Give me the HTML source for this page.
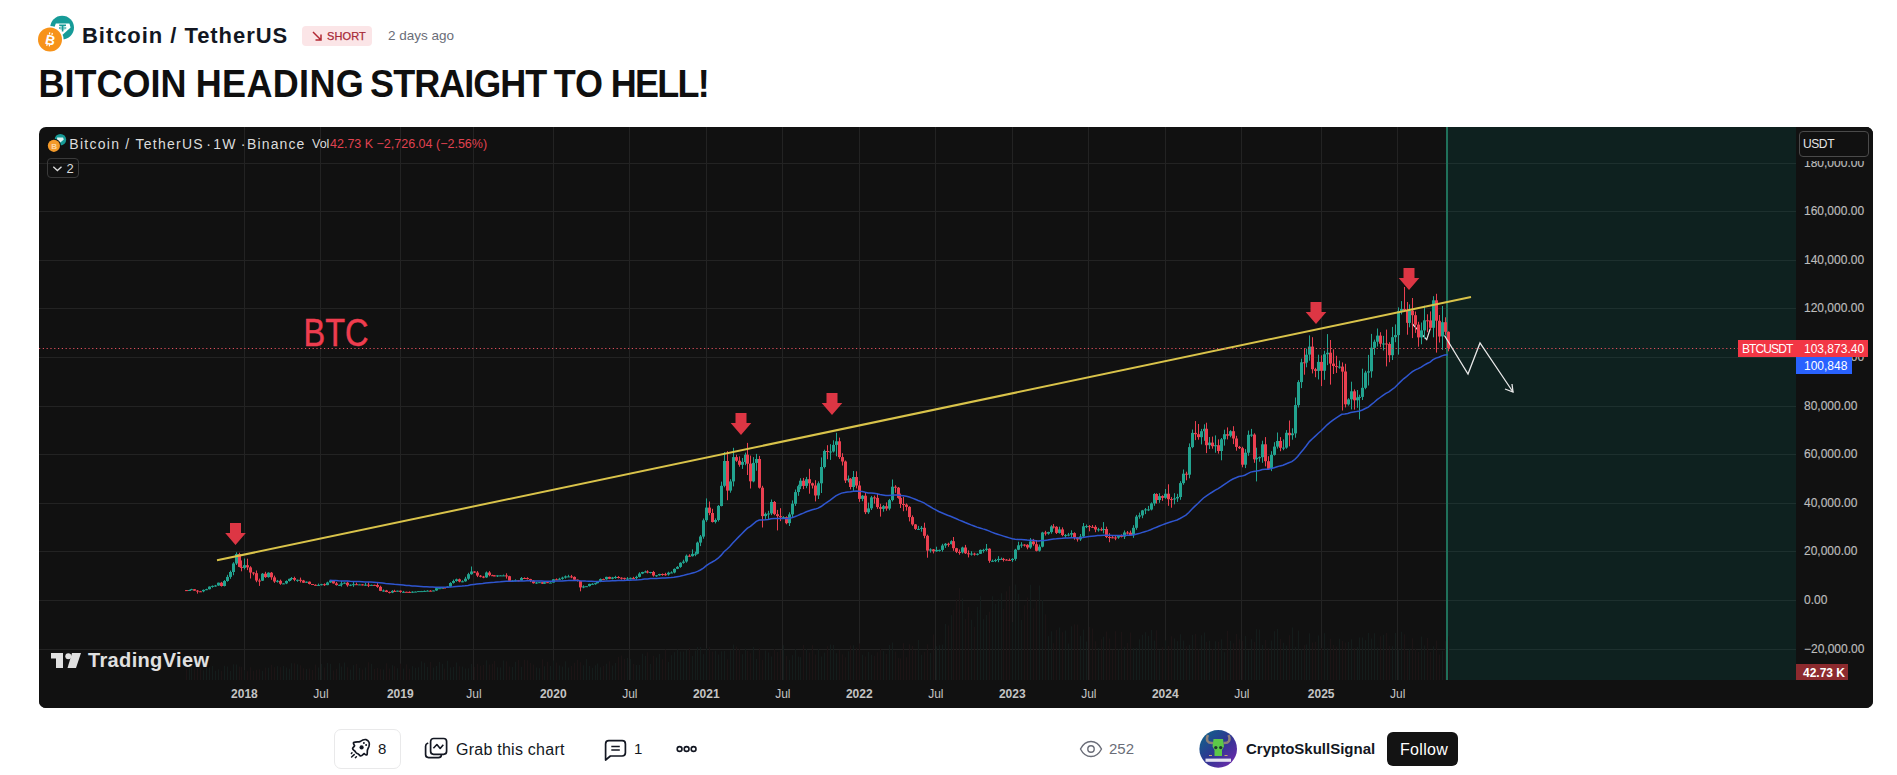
<!DOCTYPE html>
<html><head><meta charset="utf-8"><style>
*{margin:0;padding:0;box-sizing:border-box}
html,body{width:1897px;height:775px;overflow:hidden;background:#fff;font-family:"Liberation Sans",sans-serif;}
.abs{position:absolute;white-space:nowrap}
</style></head>
<body>

<svg class="abs" style="left:0;top:0" width="90" height="60" viewBox="0 0 90 60">
  <circle cx="62.1" cy="27.6" r="11.9" fill="#169b98"/>
  <path d="M55.8,23.6 H69.4 L70.6,27.4 L62.6,34.8 L54.4,27.2 Z" fill="#fff"/>
  <path d="M59.2,25.2 H66 M62.6,25.2 V31.4" stroke="#169b98" stroke-width="1.6"/>
  <ellipse cx="62.6" cy="28" rx="3.6" ry="1" fill="none" stroke="#169b98" stroke-width="0.8"/>
  <circle cx="50" cy="39.6" r="13.6" fill="#fff"/>
  <circle cx="50" cy="39.6" r="12" fill="#f7931a"/>
  <g transform="rotate(13 50 39.6)">
   <text x="50.3" y="44.6" font-family="Liberation Sans" font-weight="bold" font-size="13.5" fill="#fff" text-anchor="middle">B</text>
   <path d="M48.2,32.6 V34.6 M50.8,32.6 V34.6 M48.2,44.4 V46.4 M50.8,44.4 V46.4" stroke="#fff" stroke-width="1.2"/>
  </g>
</svg>
<div class="abs" style="left:82px;top:23px;font-size:22px;font-weight:bold;color:#131722;letter-spacing:0.95px;line-height:26px">Bitcoin / TetherUS</div>
<div class="abs" style="left:302px;top:26px;width:70px;height:20px;background:#fbe5e7;border-radius:4px"></div>
<svg class="abs" style="left:311px;top:30px" width="12" height="12" viewBox="0 0 12 12"><path d="M2 2L10 10M10 4.5V10H4.5" fill="none" stroke="#b22833" stroke-width="1.5"/></svg>
<div class="abs" style="left:327px;top:29px;font-size:11px;color:#a82a38;line-height:14px;letter-spacing:0.1px;-webkit-text-stroke:0.25px #a82a38">SHORT</div>
<div class="abs" style="left:388px;top:28px;font-size:13.5px;color:#6a6d78;line-height:16px">2 days ago</div>
<div class="abs" style="left:38.6px;top:64px;font-size:36px;font-weight:bold;color:#0f0f0f;letter-spacing:0px;line-height:42px;transform:scaleY(1.08);transform-origin:0 33px">BITCOIN</div>
<div class="abs" style="left:195.7px;top:64px;font-size:36px;font-weight:bold;color:#0f0f0f;letter-spacing:0.35px;line-height:42px;transform:scaleY(1.08);transform-origin:0 33px">HEADING</div>
<div class="abs" style="left:370.1px;top:64px;font-size:36px;font-weight:bold;color:#0f0f0f;letter-spacing:-0.97px;line-height:42px;transform:scaleY(1.08);transform-origin:0 33px">STRAIGHT</div>
<div class="abs" style="left:553.7px;top:64px;font-size:36px;font-weight:bold;color:#0f0f0f;letter-spacing:0px;line-height:42px;transform:scaleY(1.08);transform-origin:0 33px">TO</div>
<div class="abs" style="left:610.7px;top:64px;font-size:36px;font-weight:bold;color:#0f0f0f;letter-spacing:-1.75px;line-height:42px;transform:scaleY(1.08);transform-origin:0 33px">HELL!</div>

<svg class="abs" style="left:0;top:0" width="1897" height="775" viewBox="0 0 1897 775">
<defs><clipPath id="cc"><rect x="39" y="127" width="1834" height="581" rx="7"/></clipPath><clipPath id="pane"><rect x="39" y="127" width="1757" height="553"/></clipPath></defs>
<g clip-path="url(#cc)">
<rect x="39" y="127" width="1834" height="581" fill="#111111"/>
<g stroke="#232323" stroke-width="1"><line x1="39" y1="649.5" x2="1796" y2="649.5"/><line x1="39" y1="600.5" x2="1796" y2="600.5"/><line x1="39" y1="551.5" x2="1796" y2="551.5"/><line x1="39" y1="503.5" x2="1796" y2="503.5"/><line x1="39" y1="454.5" x2="1796" y2="454.5"/><line x1="39" y1="406.5" x2="1796" y2="406.5"/><line x1="39" y1="357.5" x2="1796" y2="357.5"/><line x1="39" y1="308.5" x2="1796" y2="308.5"/><line x1="39" y1="260.5" x2="1796" y2="260.5"/><line x1="39" y1="211.5" x2="1796" y2="211.5"/><line x1="39" y1="163.5" x2="1796" y2="163.5"/><line x1="39" y1="114.5" x2="1796" y2="114.5"/><line x1="244.5" y1="127" x2="244.5" y2="680"/><line x1="320.5" y1="127" x2="320.5" y2="680"/><line x1="400.5" y1="127" x2="400.5" y2="680"/><line x1="473.5" y1="127" x2="473.5" y2="680"/><line x1="553.5" y1="127" x2="553.5" y2="680"/><line x1="629.5" y1="127" x2="629.5" y2="680"/><line x1="706.5" y1="127" x2="706.5" y2="680"/><line x1="782.5" y1="127" x2="782.5" y2="680"/><line x1="859.5" y1="127" x2="859.5" y2="680"/><line x1="935.5" y1="127" x2="935.5" y2="680"/><line x1="1012.5" y1="127" x2="1012.5" y2="680"/><line x1="1088.5" y1="127" x2="1088.5" y2="680"/><line x1="1165.5" y1="127" x2="1165.5" y2="680"/><line x1="1241.5" y1="127" x2="1241.5" y2="680"/><line x1="1321.5" y1="127" x2="1321.5" y2="680"/><line x1="1397.5" y1="127" x2="1397.5" y2="680"/></g>
<rect x="1447" y="127" width="349" height="553" fill="rgb(0,125,111)" fill-opacity="0.15"/>
<g clip-path="url(#pane)">
<rect x="186" y="668.7" width="1" height="11.3" fill="#1c1415"/>
<rect x="189" y="667.9" width="1" height="12.1" fill="#141c1b"/>
<rect x="191" y="665.4" width="1" height="14.6" fill="#141c1b"/>
<rect x="194" y="668.5" width="1" height="11.5" fill="#1c1415"/>
<rect x="197" y="668.2" width="1" height="11.8" fill="#1c1415"/>
<rect x="200" y="667.6" width="1" height="12.4" fill="#1c1415"/>
<rect x="203" y="670.3" width="1" height="9.7" fill="#141c1b"/>
<rect x="206" y="668.0" width="1" height="12.0" fill="#141c1b"/>
<rect x="209" y="667.2" width="1" height="12.8" fill="#141c1b"/>
<rect x="212" y="666.0" width="1" height="14.0" fill="#141c1b"/>
<rect x="215" y="670.8" width="1" height="9.2" fill="#141c1b"/>
<rect x="218" y="669.3" width="1" height="10.7" fill="#141c1b"/>
<rect x="221" y="670.8" width="1" height="9.2" fill="#1c1415"/>
<rect x="224" y="665.7" width="1" height="14.3" fill="#141c1b"/>
<rect x="227" y="666.5" width="1" height="13.5" fill="#141c1b"/>
<rect x="230" y="671.0" width="1" height="9.0" fill="#141c1b"/>
<rect x="233" y="664.3" width="1" height="15.7" fill="#141c1b"/>
<rect x="236" y="664.4" width="1" height="15.6" fill="#141c1b"/>
<rect x="239" y="666.6" width="1" height="13.4" fill="#1c1415"/>
<rect x="241" y="666.8" width="1" height="13.2" fill="#1c1415"/>
<rect x="244" y="670.1" width="1" height="9.9" fill="#141c1b"/>
<rect x="247" y="671.1" width="1" height="8.9" fill="#1c1415"/>
<rect x="250" y="667.3" width="1" height="12.7" fill="#1c1415"/>
<rect x="253" y="670.7" width="1" height="9.3" fill="#1c1415"/>
<rect x="256" y="669.7" width="1" height="10.3" fill="#1c1415"/>
<rect x="259" y="669.3" width="1" height="10.7" fill="#1c1415"/>
<rect x="262" y="670.8" width="1" height="9.2" fill="#141c1b"/>
<rect x="265" y="667.6" width="1" height="12.4" fill="#1c1415"/>
<rect x="268" y="667.7" width="1" height="12.3" fill="#141c1b"/>
<rect x="271" y="664.7" width="1" height="15.3" fill="#1c1415"/>
<rect x="274" y="667.1" width="1" height="12.9" fill="#1c1415"/>
<rect x="277" y="666.1" width="1" height="13.9" fill="#141c1b"/>
<rect x="280" y="667.1" width="1" height="12.9" fill="#1c1415"/>
<rect x="283" y="665.9" width="1" height="14.1" fill="#141c1b"/>
<rect x="286" y="667.4" width="1" height="12.6" fill="#141c1b"/>
<rect x="289" y="668.7" width="1" height="11.3" fill="#141c1b"/>
<rect x="291" y="663.2" width="1" height="16.8" fill="#141c1b"/>
<rect x="294" y="663.2" width="1" height="16.8" fill="#1c1415"/>
<rect x="297" y="664.3" width="1" height="15.7" fill="#141c1b"/>
<rect x="300" y="665.3" width="1" height="14.7" fill="#1c1415"/>
<rect x="303" y="668.2" width="1" height="11.8" fill="#1c1415"/>
<rect x="306" y="668.9" width="1" height="11.1" fill="#141c1b"/>
<rect x="309" y="668.4" width="1" height="11.6" fill="#1c1415"/>
<rect x="312" y="670.0" width="1" height="10.0" fill="#1c1415"/>
<rect x="315" y="664.6" width="1" height="15.4" fill="#1c1415"/>
<rect x="318" y="667.4" width="1" height="12.6" fill="#141c1b"/>
<rect x="321" y="663.9" width="1" height="16.1" fill="#141c1b"/>
<rect x="324" y="667.4" width="1" height="12.6" fill="#1c1415"/>
<rect x="327" y="662.9" width="1" height="17.1" fill="#141c1b"/>
<rect x="330" y="663.8" width="1" height="16.2" fill="#141c1b"/>
<rect x="333" y="670.4" width="1" height="9.6" fill="#1c1415"/>
<rect x="336" y="668.7" width="1" height="11.3" fill="#1c1415"/>
<rect x="339" y="663.1" width="1" height="16.9" fill="#141c1b"/>
<rect x="341" y="666.6" width="1" height="13.4" fill="#141c1b"/>
<rect x="344" y="662.5" width="1" height="17.5" fill="#141c1b"/>
<rect x="347" y="667.1" width="1" height="12.9" fill="#1c1415"/>
<rect x="350" y="669.6" width="1" height="10.4" fill="#141c1b"/>
<rect x="353" y="665.1" width="1" height="14.9" fill="#141c1b"/>
<rect x="356" y="663.9" width="1" height="16.1" fill="#1c1415"/>
<rect x="359" y="668.0" width="1" height="12.0" fill="#141c1b"/>
<rect x="362" y="669.4" width="1" height="10.6" fill="#1c1415"/>
<rect x="365" y="667.4" width="1" height="12.6" fill="#141c1b"/>
<rect x="368" y="662.2" width="1" height="17.8" fill="#1c1415"/>
<rect x="371" y="663.8" width="1" height="16.2" fill="#141c1b"/>
<rect x="374" y="669.0" width="1" height="11.0" fill="#1c1415"/>
<rect x="377" y="667.9" width="1" height="12.1" fill="#1c1415"/>
<rect x="380" y="669.1" width="1" height="10.9" fill="#1c1415"/>
<rect x="383" y="669.4" width="1" height="10.6" fill="#141c1b"/>
<rect x="386" y="663.3" width="1" height="16.7" fill="#1c1415"/>
<rect x="389" y="668.4" width="1" height="11.6" fill="#1c1415"/>
<rect x="392" y="665.2" width="1" height="14.8" fill="#141c1b"/>
<rect x="394" y="666.1" width="1" height="13.9" fill="#1c1415"/>
<rect x="397" y="668.2" width="1" height="11.8" fill="#141c1b"/>
<rect x="400" y="663.6" width="1" height="16.4" fill="#1c1415"/>
<rect x="403" y="668.6" width="1" height="11.4" fill="#141c1b"/>
<rect x="406" y="664.3" width="1" height="15.7" fill="#1c1415"/>
<rect x="409" y="668.7" width="1" height="11.3" fill="#1c1415"/>
<rect x="412" y="666.1" width="1" height="13.9" fill="#141c1b"/>
<rect x="415" y="667.8" width="1" height="12.2" fill="#141c1b"/>
<rect x="418" y="667.3" width="1" height="12.7" fill="#141c1b"/>
<rect x="421" y="661.3" width="1" height="18.7" fill="#141c1b"/>
<rect x="424" y="662.7" width="1" height="17.3" fill="#141c1b"/>
<rect x="427" y="666.9" width="1" height="13.1" fill="#141c1b"/>
<rect x="430" y="661.9" width="1" height="18.1" fill="#1c1415"/>
<rect x="433" y="667.6" width="1" height="12.4" fill="#141c1b"/>
<rect x="436" y="666.0" width="1" height="14.0" fill="#141c1b"/>
<rect x="439" y="662.0" width="1" height="18.0" fill="#141c1b"/>
<rect x="442" y="663.8" width="1" height="16.2" fill="#141c1b"/>
<rect x="444" y="668.5" width="1" height="11.5" fill="#1c1415"/>
<rect x="447" y="660.7" width="1" height="19.3" fill="#141c1b"/>
<rect x="450" y="667.4" width="1" height="12.6" fill="#141c1b"/>
<rect x="453" y="667.0" width="1" height="13.0" fill="#141c1b"/>
<rect x="456" y="662.4" width="1" height="17.6" fill="#141c1b"/>
<rect x="459" y="666.3" width="1" height="13.7" fill="#1c1415"/>
<rect x="462" y="666.6" width="1" height="13.4" fill="#141c1b"/>
<rect x="465" y="668.5" width="1" height="11.5" fill="#141c1b"/>
<rect x="468" y="668.3" width="1" height="11.7" fill="#141c1b"/>
<rect x="471" y="663.9" width="1" height="16.1" fill="#141c1b"/>
<rect x="474" y="666.9" width="1" height="13.1" fill="#1c1415"/>
<rect x="477" y="663.7" width="1" height="16.3" fill="#1c1415"/>
<rect x="480" y="665.7" width="1" height="14.3" fill="#1c1415"/>
<rect x="483" y="664.9" width="1" height="15.1" fill="#1c1415"/>
<rect x="486" y="660.3" width="1" height="19.7" fill="#141c1b"/>
<rect x="489" y="664.6" width="1" height="15.4" fill="#1c1415"/>
<rect x="492" y="663.7" width="1" height="16.3" fill="#1c1415"/>
<rect x="494" y="661.0" width="1" height="19.0" fill="#1c1415"/>
<rect x="497" y="667.2" width="1" height="12.8" fill="#141c1b"/>
<rect x="500" y="667.4" width="1" height="12.6" fill="#141c1b"/>
<rect x="503" y="660.5" width="1" height="19.5" fill="#141c1b"/>
<rect x="506" y="661.3" width="1" height="18.7" fill="#1c1415"/>
<rect x="509" y="666.4" width="1" height="13.6" fill="#1c1415"/>
<rect x="512" y="667.0" width="1" height="13.0" fill="#141c1b"/>
<rect x="515" y="661.8" width="1" height="18.2" fill="#141c1b"/>
<rect x="518" y="659.9" width="1" height="20.1" fill="#1c1415"/>
<rect x="521" y="666.8" width="1" height="13.2" fill="#141c1b"/>
<rect x="524" y="659.7" width="1" height="20.3" fill="#1c1415"/>
<rect x="527" y="660.3" width="1" height="19.7" fill="#1c1415"/>
<rect x="530" y="662.9" width="1" height="17.1" fill="#1c1415"/>
<rect x="533" y="664.6" width="1" height="15.4" fill="#1c1415"/>
<rect x="536" y="667.5" width="1" height="12.5" fill="#141c1b"/>
<rect x="539" y="668.1" width="1" height="11.9" fill="#141c1b"/>
<rect x="542" y="659.3" width="1" height="20.7" fill="#1c1415"/>
<rect x="544" y="666.2" width="1" height="13.8" fill="#141c1b"/>
<rect x="547" y="661.7" width="1" height="18.3" fill="#1c1415"/>
<rect x="550" y="665.9" width="1" height="14.1" fill="#141c1b"/>
<rect x="553" y="660.5" width="1" height="19.5" fill="#141c1b"/>
<rect x="556" y="662.6" width="1" height="17.4" fill="#1c1415"/>
<rect x="559" y="665.5" width="1" height="14.5" fill="#141c1b"/>
<rect x="562" y="666.6" width="1" height="13.4" fill="#141c1b"/>
<rect x="565" y="661.3" width="1" height="18.7" fill="#141c1b"/>
<rect x="568" y="667.5" width="1" height="12.5" fill="#141c1b"/>
<rect x="571" y="666.0" width="1" height="14.0" fill="#1c1415"/>
<rect x="574" y="662.7" width="1" height="17.3" fill="#1c1415"/>
<rect x="577" y="659.8" width="1" height="20.2" fill="#1c1415"/>
<rect x="580" y="662.1" width="1" height="17.9" fill="#1c1415"/>
<rect x="583" y="665.3" width="1" height="14.7" fill="#141c1b"/>
<rect x="586" y="659.1" width="1" height="20.9" fill="#141c1b"/>
<rect x="589" y="666.0" width="1" height="14.0" fill="#141c1b"/>
<rect x="592" y="667.8" width="1" height="12.2" fill="#141c1b"/>
<rect x="595" y="665.3" width="1" height="14.7" fill="#141c1b"/>
<rect x="597" y="663.5" width="1" height="16.5" fill="#141c1b"/>
<rect x="600" y="667.3" width="1" height="12.7" fill="#141c1b"/>
<rect x="603" y="665.9" width="1" height="14.1" fill="#1c1415"/>
<rect x="606" y="663.7" width="1" height="16.3" fill="#141c1b"/>
<rect x="609" y="661.3" width="1" height="18.7" fill="#1c1415"/>
<rect x="612" y="665.6" width="1" height="14.4" fill="#141c1b"/>
<rect x="615" y="662.9" width="1" height="17.1" fill="#141c1b"/>
<rect x="618" y="656.8" width="1" height="23.2" fill="#1c1415"/>
<rect x="621" y="655.5" width="1" height="24.5" fill="#1c1415"/>
<rect x="624" y="658.8" width="1" height="21.2" fill="#1c1415"/>
<rect x="627" y="658.0" width="1" height="22.0" fill="#141c1b"/>
<rect x="630" y="659.0" width="1" height="21.0" fill="#141c1b"/>
<rect x="633" y="663.9" width="1" height="16.1" fill="#1c1415"/>
<rect x="636" y="664.9" width="1" height="15.1" fill="#141c1b"/>
<rect x="639" y="664.9" width="1" height="15.1" fill="#141c1b"/>
<rect x="642" y="653.7" width="1" height="26.3" fill="#141c1b"/>
<rect x="645" y="656.0" width="1" height="24.0" fill="#141c1b"/>
<rect x="647" y="652.3" width="1" height="27.7" fill="#1c1415"/>
<rect x="650" y="664.0" width="1" height="16.0" fill="#141c1b"/>
<rect x="653" y="655.8" width="1" height="24.2" fill="#1c1415"/>
<rect x="656" y="657.5" width="1" height="22.5" fill="#141c1b"/>
<rect x="659" y="653.9" width="1" height="26.1" fill="#141c1b"/>
<rect x="662" y="659.1" width="1" height="20.9" fill="#1c1415"/>
<rect x="665" y="649.5" width="1" height="30.5" fill="#1c1415"/>
<rect x="668" y="662.0" width="1" height="18.0" fill="#141c1b"/>
<rect x="671" y="655.1" width="1" height="24.9" fill="#141c1b"/>
<rect x="674" y="652.1" width="1" height="27.9" fill="#141c1b"/>
<rect x="677" y="649.4" width="1" height="30.6" fill="#141c1b"/>
<rect x="680" y="651.5" width="1" height="28.5" fill="#141c1b"/>
<rect x="683" y="651.6" width="1" height="28.4" fill="#141c1b"/>
<rect x="686" y="649.9" width="1" height="30.1" fill="#141c1b"/>
<rect x="689" y="647.8" width="1" height="32.2" fill="#1c1415"/>
<rect x="692" y="656.0" width="1" height="24.0" fill="#141c1b"/>
<rect x="695" y="650.6" width="1" height="29.4" fill="#141c1b"/>
<rect x="697" y="646.9" width="1" height="33.1" fill="#141c1b"/>
<rect x="700" y="647.0" width="1" height="33.0" fill="#141c1b"/>
<rect x="703" y="654.1" width="1" height="25.9" fill="#141c1b"/>
<rect x="706" y="648.2" width="1" height="31.8" fill="#141c1b"/>
<rect x="709" y="647.0" width="1" height="33.0" fill="#1c1415"/>
<rect x="712" y="651.6" width="1" height="28.4" fill="#1c1415"/>
<rect x="715" y="650.7" width="1" height="29.3" fill="#141c1b"/>
<rect x="718" y="654.5" width="1" height="25.5" fill="#141c1b"/>
<rect x="721" y="651.3" width="1" height="28.7" fill="#141c1b"/>
<rect x="724" y="650.9" width="1" height="29.1" fill="#141c1b"/>
<rect x="727" y="659.3" width="1" height="20.7" fill="#1c1415"/>
<rect x="730" y="650.3" width="1" height="29.7" fill="#141c1b"/>
<rect x="733" y="644.6" width="1" height="35.4" fill="#141c1b"/>
<rect x="736" y="646.4" width="1" height="33.6" fill="#1c1415"/>
<rect x="739" y="648.8" width="1" height="31.2" fill="#1c1415"/>
<rect x="742" y="654.2" width="1" height="25.8" fill="#141c1b"/>
<rect x="745" y="648.6" width="1" height="31.4" fill="#141c1b"/>
<rect x="747" y="651.0" width="1" height="29.0" fill="#1c1415"/>
<rect x="750" y="653.2" width="1" height="26.8" fill="#1c1415"/>
<rect x="753" y="646.8" width="1" height="33.2" fill="#141c1b"/>
<rect x="756" y="658.9" width="1" height="21.1" fill="#141c1b"/>
<rect x="759" y="648.1" width="1" height="31.9" fill="#1c1415"/>
<rect x="762" y="659.8" width="1" height="20.2" fill="#1c1415"/>
<rect x="765" y="650.5" width="1" height="29.5" fill="#141c1b"/>
<rect x="768" y="652.4" width="1" height="27.6" fill="#141c1b"/>
<rect x="771" y="656.4" width="1" height="23.6" fill="#141c1b"/>
<rect x="774" y="648.8" width="1" height="31.2" fill="#1c1415"/>
<rect x="777" y="652.0" width="1" height="28.0" fill="#1c1415"/>
<rect x="780" y="650.1" width="1" height="29.9" fill="#1c1415"/>
<rect x="783" y="645.1" width="1" height="34.9" fill="#141c1b"/>
<rect x="786" y="655.9" width="1" height="24.1" fill="#1c1415"/>
<rect x="789" y="659.8" width="1" height="20.2" fill="#141c1b"/>
<rect x="792" y="655.1" width="1" height="24.9" fill="#141c1b"/>
<rect x="795" y="648.9" width="1" height="31.1" fill="#141c1b"/>
<rect x="798" y="656.6" width="1" height="23.4" fill="#141c1b"/>
<rect x="800" y="657.1" width="1" height="22.9" fill="#141c1b"/>
<rect x="803" y="645.0" width="1" height="35.0" fill="#1c1415"/>
<rect x="806" y="649.0" width="1" height="31.0" fill="#141c1b"/>
<rect x="809" y="652.6" width="1" height="27.4" fill="#1c1415"/>
<rect x="812" y="645.1" width="1" height="34.9" fill="#1c1415"/>
<rect x="815" y="654.4" width="1" height="25.6" fill="#1c1415"/>
<rect x="818" y="648.8" width="1" height="31.2" fill="#141c1b"/>
<rect x="821" y="656.5" width="1" height="23.5" fill="#141c1b"/>
<rect x="824" y="652.6" width="1" height="27.4" fill="#141c1b"/>
<rect x="827" y="646.3" width="1" height="33.7" fill="#1c1415"/>
<rect x="830" y="644.5" width="1" height="35.5" fill="#141c1b"/>
<rect x="833" y="645.0" width="1" height="35.0" fill="#141c1b"/>
<rect x="836" y="653.2" width="1" height="26.8" fill="#141c1b"/>
<rect x="839" y="649.9" width="1" height="30.1" fill="#1c1415"/>
<rect x="842" y="654.3" width="1" height="25.7" fill="#1c1415"/>
<rect x="845" y="657.3" width="1" height="22.7" fill="#1c1415"/>
<rect x="848" y="651.2" width="1" height="28.8" fill="#141c1b"/>
<rect x="850" y="645.5" width="1" height="34.5" fill="#1c1415"/>
<rect x="853" y="645.2" width="1" height="34.8" fill="#141c1b"/>
<rect x="856" y="647.5" width="1" height="32.5" fill="#1c1415"/>
<rect x="859" y="643.5" width="1" height="36.5" fill="#1c1415"/>
<rect x="862" y="654.7" width="1" height="25.3" fill="#141c1b"/>
<rect x="865" y="656.5" width="1" height="23.5" fill="#1c1415"/>
<rect x="868" y="651.8" width="1" height="28.2" fill="#141c1b"/>
<rect x="871" y="654.7" width="1" height="25.3" fill="#141c1b"/>
<rect x="874" y="655.7" width="1" height="24.3" fill="#1c1415"/>
<rect x="877" y="652.3" width="1" height="27.7" fill="#1c1415"/>
<rect x="880" y="648.7" width="1" height="31.3" fill="#1c1415"/>
<rect x="883" y="650.9" width="1" height="29.1" fill="#141c1b"/>
<rect x="886" y="653.9" width="1" height="26.1" fill="#1c1415"/>
<rect x="889" y="644.9" width="1" height="35.1" fill="#141c1b"/>
<rect x="892" y="642.4" width="1" height="37.6" fill="#141c1b"/>
<rect x="895" y="651.4" width="1" height="28.6" fill="#1c1415"/>
<rect x="898" y="657.8" width="1" height="22.2" fill="#1c1415"/>
<rect x="900" y="658.5" width="1" height="21.5" fill="#1c1415"/>
<rect x="903" y="643.1" width="1" height="36.9" fill="#1c1415"/>
<rect x="906" y="657.1" width="1" height="22.9" fill="#1c1415"/>
<rect x="909" y="644.2" width="1" height="35.8" fill="#1c1415"/>
<rect x="912" y="646.0" width="1" height="34.0" fill="#1c1415"/>
<rect x="915" y="650.2" width="1" height="29.8" fill="#1c1415"/>
<rect x="918" y="639.9" width="1" height="40.1" fill="#141c1b"/>
<rect x="921" y="654.7" width="1" height="25.3" fill="#141c1b"/>
<rect x="924" y="651.7" width="1" height="28.3" fill="#1c1415"/>
<rect x="927" y="644.3" width="1" height="35.7" fill="#1c1415"/>
<rect x="930" y="652.9" width="1" height="27.1" fill="#141c1b"/>
<rect x="933" y="634.5" width="1" height="45.5" fill="#1c1415"/>
<rect x="936" y="646.2" width="1" height="33.8" fill="#141c1b"/>
<rect x="939" y="645.2" width="1" height="34.8" fill="#141c1b"/>
<rect x="942" y="644.6" width="1" height="35.4" fill="#141c1b"/>
<rect x="945" y="623.9" width="1" height="56.1" fill="#141c1b"/>
<rect x="948" y="625.5" width="1" height="54.5" fill="#1c1415"/>
<rect x="951" y="615.1" width="1" height="64.9" fill="#141c1b"/>
<rect x="953" y="609.7" width="1" height="70.3" fill="#1c1415"/>
<rect x="956" y="599.2" width="1" height="80.8" fill="#1c1415"/>
<rect x="959" y="588.0" width="1" height="92.0" fill="#1c1415"/>
<rect x="962" y="598.4" width="1" height="81.6" fill="#141c1b"/>
<rect x="965" y="619.0" width="1" height="61.0" fill="#1c1415"/>
<rect x="968" y="607.0" width="1" height="73.0" fill="#1c1415"/>
<rect x="971" y="619.7" width="1" height="60.3" fill="#141c1b"/>
<rect x="974" y="626.8" width="1" height="53.2" fill="#1c1415"/>
<rect x="977" y="606.8" width="1" height="73.2" fill="#141c1b"/>
<rect x="980" y="596.1" width="1" height="83.9" fill="#141c1b"/>
<rect x="983" y="619.2" width="1" height="60.8" fill="#141c1b"/>
<rect x="986" y="615.0" width="1" height="65.0" fill="#141c1b"/>
<rect x="989" y="611.7" width="1" height="68.3" fill="#1c1415"/>
<rect x="992" y="596.2" width="1" height="83.8" fill="#141c1b"/>
<rect x="995" y="603.8" width="1" height="76.2" fill="#141c1b"/>
<rect x="998" y="599.5" width="1" height="80.5" fill="#141c1b"/>
<rect x="1001" y="593.2" width="1" height="86.8" fill="#141c1b"/>
<rect x="1003" y="609.0" width="1" height="71.0" fill="#1c1415"/>
<rect x="1006" y="591.3" width="1" height="88.7" fill="#1c1415"/>
<rect x="1009" y="586.1" width="1" height="93.9" fill="#1c1415"/>
<rect x="1012" y="622.1" width="1" height="57.9" fill="#141c1b"/>
<rect x="1015" y="584.5" width="1" height="95.5" fill="#141c1b"/>
<rect x="1018" y="593.7" width="1" height="86.3" fill="#141c1b"/>
<rect x="1021" y="619.9" width="1" height="60.1" fill="#141c1b"/>
<rect x="1024" y="605.3" width="1" height="74.7" fill="#1c1415"/>
<rect x="1027" y="597.5" width="1" height="82.5" fill="#1c1415"/>
<rect x="1030" y="584.7" width="1" height="95.3" fill="#141c1b"/>
<rect x="1033" y="608.4" width="1" height="71.6" fill="#1c1415"/>
<rect x="1036" y="599.6" width="1" height="80.4" fill="#1c1415"/>
<rect x="1039" y="585.5" width="1" height="94.5" fill="#141c1b"/>
<rect x="1042" y="600.0" width="1" height="80.0" fill="#141c1b"/>
<rect x="1045" y="614.3" width="1" height="65.7" fill="#1c1415"/>
<rect x="1048" y="636.1" width="1" height="43.9" fill="#141c1b"/>
<rect x="1051" y="631.3" width="1" height="48.7" fill="#141c1b"/>
<rect x="1053" y="643.1" width="1" height="36.9" fill="#1c1415"/>
<rect x="1056" y="629.8" width="1" height="50.2" fill="#1c1415"/>
<rect x="1059" y="627.5" width="1" height="52.5" fill="#141c1b"/>
<rect x="1062" y="632.2" width="1" height="47.8" fill="#1c1415"/>
<rect x="1065" y="630.5" width="1" height="49.5" fill="#141c1b"/>
<rect x="1068" y="643.5" width="1" height="36.5" fill="#141c1b"/>
<rect x="1071" y="626.2" width="1" height="53.8" fill="#141c1b"/>
<rect x="1074" y="624.3" width="1" height="55.7" fill="#1c1415"/>
<rect x="1077" y="624.6" width="1" height="55.4" fill="#1c1415"/>
<rect x="1080" y="635.8" width="1" height="44.2" fill="#141c1b"/>
<rect x="1083" y="629.6" width="1" height="50.4" fill="#141c1b"/>
<rect x="1086" y="641.5" width="1" height="38.5" fill="#141c1b"/>
<rect x="1089" y="627.0" width="1" height="53.0" fill="#1c1415"/>
<rect x="1092" y="628.5" width="1" height="51.5" fill="#1c1415"/>
<rect x="1095" y="641.2" width="1" height="38.8" fill="#1c1415"/>
<rect x="1098" y="647.9" width="1" height="32.1" fill="#141c1b"/>
<rect x="1101" y="639.2" width="1" height="40.8" fill="#1c1415"/>
<rect x="1103" y="636.7" width="1" height="43.3" fill="#141c1b"/>
<rect x="1106" y="631.6" width="1" height="48.4" fill="#1c1415"/>
<rect x="1109" y="638.5" width="1" height="41.5" fill="#1c1415"/>
<rect x="1112" y="649.8" width="1" height="30.2" fill="#1c1415"/>
<rect x="1115" y="631.1" width="1" height="48.9" fill="#1c1415"/>
<rect x="1118" y="649.1" width="1" height="30.9" fill="#141c1b"/>
<rect x="1121" y="631.7" width="1" height="48.3" fill="#1c1415"/>
<rect x="1124" y="646.8" width="1" height="33.2" fill="#141c1b"/>
<rect x="1127" y="643.0" width="1" height="37.0" fill="#1c1415"/>
<rect x="1130" y="632.5" width="1" height="47.5" fill="#1c1415"/>
<rect x="1133" y="647.9" width="1" height="32.1" fill="#141c1b"/>
<rect x="1136" y="647.8" width="1" height="32.2" fill="#141c1b"/>
<rect x="1139" y="639.3" width="1" height="40.7" fill="#141c1b"/>
<rect x="1142" y="634.7" width="1" height="45.3" fill="#141c1b"/>
<rect x="1145" y="632.1" width="1" height="47.9" fill="#141c1b"/>
<rect x="1148" y="635.8" width="1" height="44.2" fill="#141c1b"/>
<rect x="1151" y="630.0" width="1" height="50.0" fill="#141c1b"/>
<rect x="1154" y="640.6" width="1" height="39.4" fill="#141c1b"/>
<rect x="1156" y="630.3" width="1" height="49.7" fill="#1c1415"/>
<rect x="1159" y="650.2" width="1" height="29.8" fill="#141c1b"/>
<rect x="1162" y="647.2" width="1" height="32.8" fill="#1c1415"/>
<rect x="1165" y="640.4" width="1" height="39.6" fill="#141c1b"/>
<rect x="1168" y="645.9" width="1" height="34.1" fill="#1c1415"/>
<rect x="1171" y="636.2" width="1" height="43.8" fill="#1c1415"/>
<rect x="1174" y="638.4" width="1" height="41.6" fill="#141c1b"/>
<rect x="1177" y="641.1" width="1" height="38.9" fill="#141c1b"/>
<rect x="1180" y="634.2" width="1" height="45.8" fill="#141c1b"/>
<rect x="1183" y="640.6" width="1" height="39.4" fill="#141c1b"/>
<rect x="1186" y="646.2" width="1" height="33.8" fill="#1c1415"/>
<rect x="1189" y="644.8" width="1" height="35.2" fill="#141c1b"/>
<rect x="1192" y="634.8" width="1" height="45.2" fill="#141c1b"/>
<rect x="1195" y="633.8" width="1" height="46.2" fill="#1c1415"/>
<rect x="1198" y="649.0" width="1" height="31.0" fill="#1c1415"/>
<rect x="1201" y="635.2" width="1" height="44.8" fill="#141c1b"/>
<rect x="1204" y="632.4" width="1" height="47.6" fill="#141c1b"/>
<rect x="1206" y="641.9" width="1" height="38.1" fill="#1c1415"/>
<rect x="1209" y="640.7" width="1" height="39.3" fill="#141c1b"/>
<rect x="1212" y="648.7" width="1" height="31.3" fill="#1c1415"/>
<rect x="1215" y="641.2" width="1" height="38.8" fill="#141c1b"/>
<rect x="1218" y="641.7" width="1" height="38.3" fill="#1c1415"/>
<rect x="1221" y="639.3" width="1" height="40.7" fill="#141c1b"/>
<rect x="1224" y="652.1" width="1" height="27.9" fill="#141c1b"/>
<rect x="1227" y="630.8" width="1" height="49.2" fill="#1c1415"/>
<rect x="1230" y="640.8" width="1" height="39.2" fill="#141c1b"/>
<rect x="1233" y="643.3" width="1" height="36.7" fill="#1c1415"/>
<rect x="1236" y="634.0" width="1" height="46.0" fill="#1c1415"/>
<rect x="1239" y="639.3" width="1" height="40.7" fill="#1c1415"/>
<rect x="1242" y="640.7" width="1" height="39.3" fill="#1c1415"/>
<rect x="1245" y="636.0" width="1" height="44.0" fill="#141c1b"/>
<rect x="1248" y="650.2" width="1" height="29.8" fill="#141c1b"/>
<rect x="1251" y="639.2" width="1" height="40.8" fill="#141c1b"/>
<rect x="1254" y="641.9" width="1" height="38.1" fill="#1c1415"/>
<rect x="1256" y="629.1" width="1" height="50.9" fill="#141c1b"/>
<rect x="1259" y="629.6" width="1" height="50.4" fill="#141c1b"/>
<rect x="1262" y="644.9" width="1" height="35.1" fill="#141c1b"/>
<rect x="1265" y="639.9" width="1" height="40.1" fill="#1c1415"/>
<rect x="1268" y="648.0" width="1" height="32.0" fill="#1c1415"/>
<rect x="1271" y="640.5" width="1" height="39.5" fill="#141c1b"/>
<rect x="1274" y="631.2" width="1" height="48.8" fill="#141c1b"/>
<rect x="1277" y="629.0" width="1" height="51.0" fill="#141c1b"/>
<rect x="1280" y="639.0" width="1" height="41.0" fill="#1c1415"/>
<rect x="1283" y="642.7" width="1" height="37.3" fill="#141c1b"/>
<rect x="1286" y="645.6" width="1" height="34.4" fill="#141c1b"/>
<rect x="1289" y="635.1" width="1" height="44.9" fill="#1c1415"/>
<rect x="1292" y="627.4" width="1" height="52.6" fill="#141c1b"/>
<rect x="1295" y="646.8" width="1" height="33.2" fill="#141c1b"/>
<rect x="1298" y="630.6" width="1" height="49.4" fill="#141c1b"/>
<rect x="1301" y="649.2" width="1" height="30.8" fill="#141c1b"/>
<rect x="1304" y="645.1" width="1" height="34.9" fill="#1c1415"/>
<rect x="1306" y="644.4" width="1" height="35.6" fill="#141c1b"/>
<rect x="1309" y="633.3" width="1" height="46.7" fill="#141c1b"/>
<rect x="1312" y="642.4" width="1" height="37.6" fill="#1c1415"/>
<rect x="1315" y="641.7" width="1" height="38.3" fill="#1c1415"/>
<rect x="1318" y="635.4" width="1" height="44.6" fill="#141c1b"/>
<rect x="1321" y="648.0" width="1" height="32.0" fill="#1c1415"/>
<rect x="1324" y="633.1" width="1" height="46.9" fill="#141c1b"/>
<rect x="1327" y="647.8" width="1" height="32.2" fill="#141c1b"/>
<rect x="1330" y="638.7" width="1" height="41.3" fill="#1c1415"/>
<rect x="1333" y="645.0" width="1" height="35.0" fill="#1c1415"/>
<rect x="1336" y="646.4" width="1" height="33.6" fill="#1c1415"/>
<rect x="1339" y="638.7" width="1" height="41.3" fill="#141c1b"/>
<rect x="1342" y="641.0" width="1" height="39.0" fill="#1c1415"/>
<rect x="1345" y="642.6" width="1" height="37.4" fill="#1c1415"/>
<rect x="1348" y="641.9" width="1" height="38.1" fill="#141c1b"/>
<rect x="1351" y="639.3" width="1" height="40.7" fill="#141c1b"/>
<rect x="1354" y="648.0" width="1" height="32.0" fill="#1c1415"/>
<rect x="1357" y="647.1" width="1" height="32.9" fill="#141c1b"/>
<rect x="1359" y="637.4" width="1" height="42.6" fill="#141c1b"/>
<rect x="1362" y="637.4" width="1" height="42.6" fill="#141c1b"/>
<rect x="1365" y="640.1" width="1" height="39.9" fill="#141c1b"/>
<rect x="1368" y="632.9" width="1" height="47.1" fill="#141c1b"/>
<rect x="1371" y="638.5" width="1" height="41.5" fill="#141c1b"/>
<rect x="1374" y="633.2" width="1" height="46.8" fill="#141c1b"/>
<rect x="1377" y="647.4" width="1" height="32.6" fill="#141c1b"/>
<rect x="1380" y="636.1" width="1" height="43.9" fill="#1c1415"/>
<rect x="1383" y="634.8" width="1" height="45.2" fill="#141c1b"/>
<rect x="1386" y="632.9" width="1" height="47.1" fill="#1c1415"/>
<rect x="1389" y="646.0" width="1" height="34.0" fill="#1c1415"/>
<rect x="1392" y="646.2" width="1" height="33.8" fill="#141c1b"/>
<rect x="1395" y="633.0" width="1" height="47.0" fill="#141c1b"/>
<rect x="1398" y="648.6" width="1" height="31.4" fill="#141c1b"/>
<rect x="1401" y="631.7" width="1" height="48.3" fill="#141c1b"/>
<rect x="1404" y="634.3" width="1" height="45.7" fill="#1c1415"/>
<rect x="1407" y="650.8" width="1" height="29.2" fill="#1c1415"/>
<rect x="1409" y="648.6" width="1" height="31.4" fill="#141c1b"/>
<rect x="1412" y="638.3" width="1" height="41.7" fill="#1c1415"/>
<rect x="1415" y="648.5" width="1" height="31.5" fill="#1c1415"/>
<rect x="1418" y="652.0" width="1" height="28.0" fill="#1c1415"/>
<rect x="1421" y="636.6" width="1" height="43.4" fill="#141c1b"/>
<rect x="1424" y="645.4" width="1" height="34.6" fill="#141c1b"/>
<rect x="1427" y="637.9" width="1" height="42.1" fill="#1c1415"/>
<rect x="1430" y="651.9" width="1" height="28.1" fill="#1c1415"/>
<rect x="1433" y="646.3" width="1" height="33.7" fill="#141c1b"/>
<rect x="1436" y="640.6" width="1" height="39.4" fill="#1c1415"/>
<rect x="1439" y="654.5" width="1" height="25.5" fill="#1c1415"/>
<rect x="1442" y="650.8" width="1" height="29.2" fill="#141c1b"/>
<rect x="1445" y="641.1" width="1" height="38.9" fill="#1c1415"/>
<rect x="1448" y="636.6" width="1" height="43.4" fill="#1c1415"/>
<rect x="1446" y="127" width="2" height="553" fill="#20705a"/>
<path d="M1412,323.5 L1426.7,339.6 L1430.2,328.7" fill="none" stroke="#e8e8e8" stroke-width="1.2"/>
<rect x="186" y="590.0" width="1" height="1.0" fill="#ea4050"/>
<rect x="185" y="590.1" width="3" height="1.0" fill="#ea4050"/>
<rect x="189" y="589.7" width="1" height="1.1" fill="#22a38f"/>
<rect x="188" y="590.0" width="3" height="1.0" fill="#22a38f"/>
<rect x="191" y="588.8" width="1" height="1.2" fill="#22a38f"/>
<rect x="190" y="589.2" width="3" height="1.0" fill="#22a38f"/>
<rect x="194" y="589.0" width="1" height="1.7" fill="#ea4050"/>
<rect x="193" y="589.2" width="3" height="1.5" fill="#ea4050"/>
<rect x="197" y="590.0" width="1" height="3.6" fill="#ea4050"/>
<rect x="196" y="590.6" width="3" height="1.0" fill="#ea4050"/>
<rect x="200" y="590.9" width="1" height="0.9" fill="#ea4050"/>
<rect x="199" y="591.3" width="3" height="1.0" fill="#ea4050"/>
<rect x="203" y="589.5" width="1" height="2.7" fill="#22a38f"/>
<rect x="202" y="589.9" width="3" height="1.4" fill="#22a38f"/>
<rect x="206" y="588.7" width="1" height="1.4" fill="#22a38f"/>
<rect x="205" y="589.2" width="3" height="1.0" fill="#22a38f"/>
<rect x="209" y="586.4" width="1" height="3.0" fill="#22a38f"/>
<rect x="208" y="586.6" width="3" height="2.6" fill="#22a38f"/>
<rect x="212" y="585.5" width="1" height="2.2" fill="#22a38f"/>
<rect x="211" y="585.9" width="3" height="1.0" fill="#22a38f"/>
<rect x="215" y="584.9" width="1" height="1.8" fill="#22a38f"/>
<rect x="214" y="585.5" width="3" height="1.0" fill="#22a38f"/>
<rect x="218" y="582.6" width="1" height="3.2" fill="#22a38f"/>
<rect x="217" y="582.7" width="3" height="2.8" fill="#22a38f"/>
<rect x="221" y="581.9" width="1" height="4.7" fill="#ea4050"/>
<rect x="220" y="582.7" width="3" height="3.3" fill="#ea4050"/>
<rect x="224" y="580.1" width="1" height="6.3" fill="#22a38f"/>
<rect x="223" y="581.0" width="3" height="5.0" fill="#22a38f"/>
<rect x="227" y="574.8" width="1" height="6.9" fill="#22a38f"/>
<rect x="226" y="576.9" width="3" height="4.1" fill="#22a38f"/>
<rect x="230" y="570.6" width="1" height="8.2" fill="#22a38f"/>
<rect x="229" y="572.0" width="3" height="4.9" fill="#22a38f"/>
<rect x="233" y="562.2" width="1" height="13.0" fill="#22a38f"/>
<rect x="232" y="563.5" width="3" height="8.5" fill="#22a38f"/>
<rect x="236" y="552.3" width="1" height="12.7" fill="#22a38f"/>
<rect x="235" y="554.0" width="3" height="9.5" fill="#22a38f"/>
<rect x="239" y="552.7" width="1" height="14.5" fill="#ea4050"/>
<rect x="238" y="554.0" width="3" height="12.9" fill="#ea4050"/>
<rect x="241" y="560.4" width="1" height="10.9" fill="#ea4050"/>
<rect x="240" y="566.9" width="3" height="1.0" fill="#ea4050"/>
<rect x="244" y="558.5" width="1" height="10.9" fill="#22a38f"/>
<rect x="243" y="565.2" width="3" height="2.7" fill="#22a38f"/>
<rect x="247" y="558.7" width="1" height="11.4" fill="#ea4050"/>
<rect x="246" y="565.2" width="3" height="2.2" fill="#ea4050"/>
<rect x="250" y="566.2" width="1" height="12.3" fill="#ea4050"/>
<rect x="249" y="567.4" width="3" height="5.1" fill="#ea4050"/>
<rect x="253" y="572.2" width="1" height="3.1" fill="#ea4050"/>
<rect x="252" y="572.5" width="3" height="1.0" fill="#ea4050"/>
<rect x="256" y="570.5" width="1" height="11.7" fill="#ea4050"/>
<rect x="255" y="573.2" width="3" height="7.3" fill="#ea4050"/>
<rect x="259" y="578.6" width="1" height="7.3" fill="#ea4050"/>
<rect x="258" y="580.5" width="3" height="1.0" fill="#ea4050"/>
<rect x="262" y="573.0" width="1" height="8.0" fill="#22a38f"/>
<rect x="261" y="573.7" width="3" height="7.0" fill="#22a38f"/>
<rect x="265" y="571.8" width="1" height="6.1" fill="#ea4050"/>
<rect x="264" y="573.7" width="3" height="3.4" fill="#ea4050"/>
<rect x="268" y="572.3" width="1" height="5.4" fill="#22a38f"/>
<rect x="267" y="572.7" width="3" height="4.4" fill="#22a38f"/>
<rect x="271" y="572.0" width="1" height="7.8" fill="#ea4050"/>
<rect x="270" y="572.7" width="3" height="4.6" fill="#ea4050"/>
<rect x="274" y="575.6" width="1" height="7.3" fill="#ea4050"/>
<rect x="273" y="577.4" width="3" height="4.1" fill="#ea4050"/>
<rect x="277" y="579.9" width="1" height="2.7" fill="#22a38f"/>
<rect x="276" y="580.8" width="3" height="1.0" fill="#22a38f"/>
<rect x="280" y="579.6" width="1" height="5.2" fill="#ea4050"/>
<rect x="279" y="580.8" width="3" height="2.9" fill="#ea4050"/>
<rect x="283" y="583.2" width="1" height="0.8" fill="#22a38f"/>
<rect x="282" y="583.4" width="3" height="1.0" fill="#22a38f"/>
<rect x="286" y="580.4" width="1" height="3.7" fill="#22a38f"/>
<rect x="285" y="581.0" width="3" height="2.4" fill="#22a38f"/>
<rect x="289" y="578.7" width="1" height="2.9" fill="#22a38f"/>
<rect x="288" y="578.8" width="3" height="2.2" fill="#22a38f"/>
<rect x="291" y="577.0" width="1" height="3.2" fill="#22a38f"/>
<rect x="290" y="578.0" width="3" height="1.0" fill="#22a38f"/>
<rect x="294" y="576.7" width="1" height="4.5" fill="#ea4050"/>
<rect x="293" y="578.0" width="3" height="1.8" fill="#ea4050"/>
<rect x="297" y="579.6" width="1" height="2.2" fill="#22a38f"/>
<rect x="296" y="579.8" width="3" height="1.0" fill="#22a38f"/>
<rect x="300" y="577.6" width="1" height="4.9" fill="#ea4050"/>
<rect x="299" y="579.8" width="3" height="1.0" fill="#ea4050"/>
<rect x="303" y="579.9" width="1" height="3.0" fill="#ea4050"/>
<rect x="302" y="580.5" width="3" height="2.2" fill="#ea4050"/>
<rect x="306" y="581.5" width="1" height="1.4" fill="#22a38f"/>
<rect x="305" y="581.7" width="3" height="1.0" fill="#22a38f"/>
<rect x="309" y="581.5" width="1" height="2.9" fill="#ea4050"/>
<rect x="308" y="581.7" width="3" height="2.3" fill="#ea4050"/>
<rect x="312" y="584.0" width="1" height="1.0" fill="#ea4050"/>
<rect x="311" y="584.0" width="3" height="1.0" fill="#ea4050"/>
<rect x="315" y="584.4" width="1" height="1.2" fill="#ea4050"/>
<rect x="314" y="584.8" width="3" height="1.0" fill="#ea4050"/>
<rect x="318" y="583.6" width="1" height="2.3" fill="#22a38f"/>
<rect x="317" y="584.9" width="3" height="1.0" fill="#22a38f"/>
<rect x="321" y="583.8" width="1" height="1.6" fill="#22a38f"/>
<rect x="320" y="584.2" width="3" height="1.0" fill="#22a38f"/>
<rect x="324" y="583.4" width="1" height="2.5" fill="#ea4050"/>
<rect x="323" y="584.2" width="3" height="1.0" fill="#ea4050"/>
<rect x="327" y="581.7" width="1" height="3.5" fill="#22a38f"/>
<rect x="326" y="582.5" width="3" height="2.6" fill="#22a38f"/>
<rect x="330" y="580.1" width="1" height="2.7" fill="#22a38f"/>
<rect x="329" y="580.5" width="3" height="1.9" fill="#22a38f"/>
<rect x="333" y="580.0" width="1" height="3.6" fill="#ea4050"/>
<rect x="332" y="580.5" width="3" height="2.9" fill="#ea4050"/>
<rect x="336" y="582.0" width="1" height="3.6" fill="#ea4050"/>
<rect x="335" y="583.4" width="3" height="1.7" fill="#ea4050"/>
<rect x="339" y="584.7" width="1" height="1.2" fill="#22a38f"/>
<rect x="338" y="584.8" width="3" height="1.0" fill="#22a38f"/>
<rect x="341" y="581.0" width="1" height="5.6" fill="#22a38f"/>
<rect x="340" y="583.4" width="3" height="1.3" fill="#22a38f"/>
<rect x="344" y="582.3" width="1" height="1.4" fill="#22a38f"/>
<rect x="343" y="582.7" width="3" height="1.0" fill="#22a38f"/>
<rect x="347" y="581.5" width="1" height="5.2" fill="#ea4050"/>
<rect x="346" y="582.7" width="3" height="2.6" fill="#ea4050"/>
<rect x="350" y="584.4" width="1" height="1.7" fill="#22a38f"/>
<rect x="349" y="584.7" width="3" height="1.0" fill="#22a38f"/>
<rect x="353" y="581.9" width="1" height="4.9" fill="#22a38f"/>
<rect x="352" y="584.2" width="3" height="1.0" fill="#22a38f"/>
<rect x="356" y="582.6" width="1" height="2.4" fill="#ea4050"/>
<rect x="355" y="584.2" width="3" height="1.0" fill="#ea4050"/>
<rect x="359" y="583.9" width="1" height="0.6" fill="#22a38f"/>
<rect x="358" y="584.4" width="3" height="1.0" fill="#22a38f"/>
<rect x="362" y="584.1" width="1" height="1.3" fill="#ea4050"/>
<rect x="361" y="584.4" width="3" height="1.0" fill="#ea4050"/>
<rect x="365" y="583.0" width="1" height="2.9" fill="#22a38f"/>
<rect x="364" y="584.7" width="3" height="1.0" fill="#22a38f"/>
<rect x="368" y="582.2" width="1" height="4.9" fill="#ea4050"/>
<rect x="367" y="584.7" width="3" height="1.0" fill="#ea4050"/>
<rect x="371" y="584.6" width="1" height="0.6" fill="#22a38f"/>
<rect x="370" y="584.9" width="3" height="1.0" fill="#22a38f"/>
<rect x="374" y="584.7" width="1" height="0.9" fill="#ea4050"/>
<rect x="373" y="584.9" width="3" height="1.0" fill="#ea4050"/>
<rect x="377" y="583.1" width="1" height="4.7" fill="#ea4050"/>
<rect x="376" y="585.0" width="3" height="1.8" fill="#ea4050"/>
<rect x="380" y="585.7" width="1" height="5.4" fill="#ea4050"/>
<rect x="379" y="586.8" width="3" height="4.1" fill="#ea4050"/>
<rect x="383" y="589.5" width="1" height="2.2" fill="#22a38f"/>
<rect x="382" y="590.5" width="3" height="1.0" fill="#22a38f"/>
<rect x="386" y="589.9" width="1" height="2.3" fill="#ea4050"/>
<rect x="385" y="590.5" width="3" height="1.5" fill="#ea4050"/>
<rect x="389" y="591.6" width="1" height="1.8" fill="#ea4050"/>
<rect x="388" y="591.9" width="3" height="1.0" fill="#ea4050"/>
<rect x="392" y="590.2" width="1" height="2.9" fill="#22a38f"/>
<rect x="391" y="590.9" width="3" height="1.7" fill="#22a38f"/>
<rect x="394" y="589.8" width="1" height="1.6" fill="#ea4050"/>
<rect x="393" y="590.9" width="3" height="1.0" fill="#ea4050"/>
<rect x="397" y="590.6" width="1" height="1.0" fill="#22a38f"/>
<rect x="396" y="590.7" width="3" height="1.0" fill="#22a38f"/>
<rect x="400" y="590.5" width="1" height="2.3" fill="#ea4050"/>
<rect x="399" y="590.7" width="3" height="1.2" fill="#ea4050"/>
<rect x="403" y="590.9" width="1" height="1.6" fill="#22a38f"/>
<rect x="402" y="591.8" width="3" height="1.0" fill="#22a38f"/>
<rect x="406" y="591.7" width="1" height="0.3" fill="#ea4050"/>
<rect x="405" y="591.8" width="3" height="1.0" fill="#ea4050"/>
<rect x="409" y="591.4" width="1" height="1.3" fill="#ea4050"/>
<rect x="408" y="591.9" width="3" height="1.0" fill="#ea4050"/>
<rect x="412" y="591.3" width="1" height="1.6" fill="#22a38f"/>
<rect x="411" y="591.7" width="3" height="1.0" fill="#22a38f"/>
<rect x="415" y="591.4" width="1" height="0.5" fill="#22a38f"/>
<rect x="414" y="591.6" width="3" height="1.0" fill="#22a38f"/>
<rect x="418" y="591.0" width="1" height="0.8" fill="#22a38f"/>
<rect x="417" y="591.1" width="3" height="1.0" fill="#22a38f"/>
<rect x="421" y="590.9" width="1" height="0.3" fill="#22a38f"/>
<rect x="420" y="591.1" width="3" height="1.0" fill="#22a38f"/>
<rect x="424" y="590.5" width="1" height="1.0" fill="#22a38f"/>
<rect x="423" y="590.9" width="3" height="1.0" fill="#22a38f"/>
<rect x="427" y="590.2" width="1" height="0.9" fill="#22a38f"/>
<rect x="426" y="590.7" width="3" height="1.0" fill="#22a38f"/>
<rect x="430" y="590.2" width="1" height="1.1" fill="#ea4050"/>
<rect x="429" y="590.7" width="3" height="1.0" fill="#ea4050"/>
<rect x="433" y="590.4" width="1" height="0.7" fill="#22a38f"/>
<rect x="432" y="590.5" width="3" height="1.0" fill="#22a38f"/>
<rect x="436" y="588.1" width="1" height="2.7" fill="#22a38f"/>
<rect x="435" y="588.2" width="3" height="2.3" fill="#22a38f"/>
<rect x="439" y="587.9" width="1" height="0.6" fill="#22a38f"/>
<rect x="438" y="588.2" width="3" height="1.0" fill="#22a38f"/>
<rect x="442" y="587.3" width="1" height="1.3" fill="#22a38f"/>
<rect x="441" y="587.6" width="3" height="1.0" fill="#22a38f"/>
<rect x="444" y="587.0" width="1" height="1.0" fill="#ea4050"/>
<rect x="443" y="587.6" width="3" height="1.0" fill="#ea4050"/>
<rect x="447" y="586.3" width="1" height="1.7" fill="#22a38f"/>
<rect x="446" y="586.6" width="3" height="1.2" fill="#22a38f"/>
<rect x="450" y="582.2" width="1" height="5.0" fill="#22a38f"/>
<rect x="449" y="583.0" width="3" height="3.6" fill="#22a38f"/>
<rect x="453" y="579.6" width="1" height="4.0" fill="#22a38f"/>
<rect x="452" y="581.0" width="3" height="1.9" fill="#22a38f"/>
<rect x="456" y="578.6" width="1" height="3.1" fill="#22a38f"/>
<rect x="455" y="579.3" width="3" height="1.7" fill="#22a38f"/>
<rect x="459" y="578.6" width="1" height="3.7" fill="#ea4050"/>
<rect x="458" y="579.3" width="3" height="2.2" fill="#ea4050"/>
<rect x="462" y="580.3" width="1" height="1.9" fill="#22a38f"/>
<rect x="461" y="581.3" width="3" height="1.0" fill="#22a38f"/>
<rect x="465" y="576.8" width="1" height="4.9" fill="#22a38f"/>
<rect x="464" y="578.7" width="3" height="2.6" fill="#22a38f"/>
<rect x="468" y="572.8" width="1" height="7.0" fill="#22a38f"/>
<rect x="467" y="574.2" width="3" height="4.5" fill="#22a38f"/>
<rect x="471" y="566.5" width="1" height="8.2" fill="#22a38f"/>
<rect x="470" y="571.5" width="3" height="2.7" fill="#22a38f"/>
<rect x="474" y="571.2" width="1" height="1.7" fill="#ea4050"/>
<rect x="473" y="571.5" width="3" height="1.1" fill="#ea4050"/>
<rect x="477" y="571.1" width="1" height="6.0" fill="#ea4050"/>
<rect x="476" y="572.6" width="3" height="3.0" fill="#ea4050"/>
<rect x="480" y="575.0" width="1" height="2.3" fill="#ea4050"/>
<rect x="479" y="575.7" width="3" height="1.0" fill="#ea4050"/>
<rect x="483" y="575.9" width="1" height="2.3" fill="#ea4050"/>
<rect x="482" y="576.6" width="3" height="1.0" fill="#ea4050"/>
<rect x="486" y="571.5" width="1" height="6.3" fill="#22a38f"/>
<rect x="485" y="572.5" width="3" height="4.9" fill="#22a38f"/>
<rect x="489" y="571.1" width="1" height="5.2" fill="#ea4050"/>
<rect x="488" y="572.5" width="3" height="2.7" fill="#ea4050"/>
<rect x="492" y="574.7" width="1" height="1.3" fill="#ea4050"/>
<rect x="491" y="575.2" width="3" height="1.0" fill="#ea4050"/>
<rect x="494" y="575.1" width="1" height="1.2" fill="#ea4050"/>
<rect x="493" y="575.4" width="3" height="1.0" fill="#ea4050"/>
<rect x="497" y="575.3" width="1" height="1.7" fill="#22a38f"/>
<rect x="496" y="575.4" width="3" height="1.0" fill="#22a38f"/>
<rect x="500" y="575.3" width="1" height="0.6" fill="#22a38f"/>
<rect x="499" y="575.4" width="3" height="1.0" fill="#22a38f"/>
<rect x="503" y="574.6" width="1" height="1.1" fill="#22a38f"/>
<rect x="502" y="575.4" width="3" height="1.0" fill="#22a38f"/>
<rect x="506" y="573.3" width="1" height="5.3" fill="#ea4050"/>
<rect x="505" y="575.4" width="3" height="1.0" fill="#ea4050"/>
<rect x="509" y="575.8" width="1" height="5.1" fill="#ea4050"/>
<rect x="508" y="576.2" width="3" height="4.6" fill="#ea4050"/>
<rect x="512" y="580.2" width="1" height="0.9" fill="#22a38f"/>
<rect x="511" y="580.6" width="3" height="1.0" fill="#22a38f"/>
<rect x="515" y="579.4" width="1" height="2.0" fill="#22a38f"/>
<rect x="514" y="580.3" width="3" height="1.0" fill="#22a38f"/>
<rect x="518" y="580.1" width="1" height="1.2" fill="#ea4050"/>
<rect x="517" y="580.3" width="3" height="1.0" fill="#ea4050"/>
<rect x="521" y="577.0" width="1" height="3.7" fill="#22a38f"/>
<rect x="520" y="578.0" width="3" height="2.6" fill="#22a38f"/>
<rect x="524" y="577.4" width="1" height="1.1" fill="#ea4050"/>
<rect x="523" y="578.0" width="3" height="1.0" fill="#ea4050"/>
<rect x="527" y="577.3" width="1" height="2.2" fill="#ea4050"/>
<rect x="526" y="578.1" width="3" height="1.0" fill="#ea4050"/>
<rect x="530" y="578.8" width="1" height="3.3" fill="#ea4050"/>
<rect x="529" y="579.1" width="3" height="1.7" fill="#ea4050"/>
<rect x="533" y="580.2" width="1" height="3.4" fill="#ea4050"/>
<rect x="532" y="580.8" width="3" height="2.4" fill="#ea4050"/>
<rect x="536" y="582.0" width="1" height="1.9" fill="#22a38f"/>
<rect x="535" y="582.5" width="3" height="1.0" fill="#22a38f"/>
<rect x="539" y="582.1" width="1" height="0.8" fill="#22a38f"/>
<rect x="538" y="582.2" width="3" height="1.0" fill="#22a38f"/>
<rect x="542" y="582.1" width="1" height="1.8" fill="#ea4050"/>
<rect x="541" y="582.2" width="3" height="1.5" fill="#ea4050"/>
<rect x="544" y="582.0" width="1" height="1.9" fill="#22a38f"/>
<rect x="543" y="582.2" width="3" height="1.5" fill="#22a38f"/>
<rect x="547" y="581.6" width="1" height="1.4" fill="#ea4050"/>
<rect x="546" y="582.2" width="3" height="1.0" fill="#ea4050"/>
<rect x="550" y="582.3" width="1" height="0.7" fill="#22a38f"/>
<rect x="549" y="582.6" width="3" height="1.0" fill="#22a38f"/>
<rect x="553" y="579.0" width="1" height="3.6" fill="#22a38f"/>
<rect x="552" y="579.3" width="3" height="3.3" fill="#22a38f"/>
<rect x="556" y="578.4" width="1" height="1.5" fill="#ea4050"/>
<rect x="555" y="579.3" width="3" height="1.0" fill="#ea4050"/>
<rect x="559" y="577.8" width="1" height="2.0" fill="#22a38f"/>
<rect x="558" y="578.8" width="3" height="1.0" fill="#22a38f"/>
<rect x="562" y="576.7" width="1" height="3.0" fill="#22a38f"/>
<rect x="561" y="577.6" width="3" height="1.2" fill="#22a38f"/>
<rect x="565" y="575.5" width="1" height="3.1" fill="#22a38f"/>
<rect x="564" y="576.4" width="3" height="1.2" fill="#22a38f"/>
<rect x="568" y="574.8" width="1" height="2.3" fill="#22a38f"/>
<rect x="567" y="576.4" width="3" height="1.0" fill="#22a38f"/>
<rect x="571" y="574.9" width="1" height="3.3" fill="#ea4050"/>
<rect x="570" y="576.4" width="3" height="1.0" fill="#ea4050"/>
<rect x="574" y="576.4" width="1" height="3.4" fill="#ea4050"/>
<rect x="573" y="576.9" width="3" height="2.8" fill="#ea4050"/>
<rect x="577" y="579.5" width="1" height="2.0" fill="#ea4050"/>
<rect x="576" y="579.7" width="3" height="1.3" fill="#ea4050"/>
<rect x="580" y="580.8" width="1" height="10.5" fill="#ea4050"/>
<rect x="579" y="581.0" width="3" height="6.4" fill="#ea4050"/>
<rect x="583" y="585.3" width="1" height="2.9" fill="#22a38f"/>
<rect x="582" y="586.4" width="3" height="1.1" fill="#22a38f"/>
<rect x="586" y="586.0" width="1" height="0.6" fill="#22a38f"/>
<rect x="585" y="586.2" width="3" height="1.0" fill="#22a38f"/>
<rect x="589" y="583.7" width="1" height="2.8" fill="#22a38f"/>
<rect x="588" y="583.9" width="3" height="2.2" fill="#22a38f"/>
<rect x="592" y="583.2" width="1" height="1.4" fill="#22a38f"/>
<rect x="591" y="583.8" width="3" height="1.0" fill="#22a38f"/>
<rect x="595" y="582.9" width="1" height="1.8" fill="#22a38f"/>
<rect x="594" y="583.2" width="3" height="1.0" fill="#22a38f"/>
<rect x="597" y="581.4" width="1" height="1.9" fill="#22a38f"/>
<rect x="596" y="581.7" width="3" height="1.5" fill="#22a38f"/>
<rect x="600" y="578.5" width="1" height="3.7" fill="#22a38f"/>
<rect x="599" y="579.1" width="3" height="2.7" fill="#22a38f"/>
<rect x="603" y="578.6" width="1" height="0.8" fill="#ea4050"/>
<rect x="602" y="579.1" width="3" height="1.0" fill="#ea4050"/>
<rect x="606" y="576.7" width="1" height="3.0" fill="#22a38f"/>
<rect x="605" y="576.9" width="3" height="2.4" fill="#22a38f"/>
<rect x="609" y="576.7" width="1" height="2.4" fill="#ea4050"/>
<rect x="608" y="576.9" width="3" height="1.9" fill="#ea4050"/>
<rect x="612" y="576.9" width="1" height="2.4" fill="#22a38f"/>
<rect x="611" y="577.5" width="3" height="1.3" fill="#22a38f"/>
<rect x="615" y="575.8" width="1" height="3.0" fill="#22a38f"/>
<rect x="614" y="577.0" width="3" height="1.0" fill="#22a38f"/>
<rect x="618" y="576.1" width="1" height="2.4" fill="#ea4050"/>
<rect x="617" y="577.0" width="3" height="1.0" fill="#ea4050"/>
<rect x="621" y="577.3" width="1" height="2.3" fill="#ea4050"/>
<rect x="620" y="577.7" width="3" height="1.0" fill="#ea4050"/>
<rect x="624" y="577.7" width="1" height="2.1" fill="#ea4050"/>
<rect x="623" y="577.9" width="3" height="1.0" fill="#ea4050"/>
<rect x="627" y="577.1" width="1" height="2.9" fill="#22a38f"/>
<rect x="626" y="578.5" width="3" height="1.0" fill="#22a38f"/>
<rect x="630" y="577.5" width="1" height="2.0" fill="#22a38f"/>
<rect x="629" y="577.9" width="3" height="1.0" fill="#22a38f"/>
<rect x="633" y="576.8" width="1" height="2.2" fill="#ea4050"/>
<rect x="632" y="577.9" width="3" height="1.0" fill="#ea4050"/>
<rect x="636" y="575.7" width="1" height="4.1" fill="#22a38f"/>
<rect x="635" y="576.9" width="3" height="1.2" fill="#22a38f"/>
<rect x="639" y="572.3" width="1" height="5.1" fill="#22a38f"/>
<rect x="638" y="573.6" width="3" height="3.3" fill="#22a38f"/>
<rect x="642" y="571.8" width="1" height="2.3" fill="#22a38f"/>
<rect x="641" y="572.0" width="3" height="1.6" fill="#22a38f"/>
<rect x="645" y="570.6" width="1" height="2.0" fill="#22a38f"/>
<rect x="644" y="571.5" width="3" height="1.0" fill="#22a38f"/>
<rect x="647" y="570.3" width="1" height="3.1" fill="#ea4050"/>
<rect x="646" y="571.5" width="3" height="1.0" fill="#ea4050"/>
<rect x="650" y="571.9" width="1" height="1.5" fill="#22a38f"/>
<rect x="649" y="572.0" width="3" height="1.0" fill="#22a38f"/>
<rect x="653" y="570.9" width="1" height="5.7" fill="#ea4050"/>
<rect x="652" y="572.0" width="3" height="3.5" fill="#ea4050"/>
<rect x="656" y="575.1" width="1" height="1.7" fill="#22a38f"/>
<rect x="655" y="575.3" width="3" height="1.0" fill="#22a38f"/>
<rect x="659" y="573.8" width="1" height="1.9" fill="#22a38f"/>
<rect x="658" y="574.0" width="3" height="1.3" fill="#22a38f"/>
<rect x="662" y="573.5" width="1" height="2.2" fill="#ea4050"/>
<rect x="661" y="574.0" width="3" height="1.0" fill="#ea4050"/>
<rect x="665" y="572.8" width="1" height="2.9" fill="#ea4050"/>
<rect x="664" y="574.2" width="3" height="1.0" fill="#ea4050"/>
<rect x="668" y="571.7" width="1" height="3.9" fill="#22a38f"/>
<rect x="667" y="572.7" width="3" height="1.8" fill="#22a38f"/>
<rect x="671" y="571.3" width="1" height="1.7" fill="#22a38f"/>
<rect x="670" y="572.5" width="3" height="1.0" fill="#22a38f"/>
<rect x="674" y="568.4" width="1" height="4.9" fill="#22a38f"/>
<rect x="673" y="568.9" width="3" height="3.6" fill="#22a38f"/>
<rect x="677" y="566.1" width="1" height="3.0" fill="#22a38f"/>
<rect x="676" y="566.9" width="3" height="1.9" fill="#22a38f"/>
<rect x="680" y="562.3" width="1" height="5.5" fill="#22a38f"/>
<rect x="679" y="562.8" width="3" height="4.1" fill="#22a38f"/>
<rect x="683" y="559.7" width="1" height="4.0" fill="#22a38f"/>
<rect x="682" y="561.6" width="3" height="1.2" fill="#22a38f"/>
<rect x="686" y="554.5" width="1" height="8.2" fill="#22a38f"/>
<rect x="685" y="555.7" width="3" height="5.8" fill="#22a38f"/>
<rect x="689" y="554.3" width="1" height="2.4" fill="#ea4050"/>
<rect x="688" y="555.7" width="3" height="1.0" fill="#ea4050"/>
<rect x="692" y="549.4" width="1" height="7.1" fill="#22a38f"/>
<rect x="691" y="553.9" width="3" height="2.3" fill="#22a38f"/>
<rect x="695" y="551.7" width="1" height="4.5" fill="#22a38f"/>
<rect x="694" y="553.7" width="3" height="1.0" fill="#22a38f"/>
<rect x="697" y="541.6" width="1" height="12.7" fill="#22a38f"/>
<rect x="696" y="542.6" width="3" height="11.1" fill="#22a38f"/>
<rect x="700" y="535.0" width="1" height="11.1" fill="#22a38f"/>
<rect x="699" y="536.5" width="3" height="6.1" fill="#22a38f"/>
<rect x="703" y="518.5" width="1" height="20.2" fill="#22a38f"/>
<rect x="702" y="520.3" width="3" height="16.3" fill="#22a38f"/>
<rect x="706" y="498.4" width="1" height="23.5" fill="#22a38f"/>
<rect x="705" y="507.6" width="3" height="12.6" fill="#22a38f"/>
<rect x="709" y="501.5" width="1" height="13.7" fill="#ea4050"/>
<rect x="708" y="507.6" width="3" height="5.3" fill="#ea4050"/>
<rect x="712" y="508.8" width="1" height="13.7" fill="#ea4050"/>
<rect x="711" y="513.0" width="3" height="9.0" fill="#ea4050"/>
<rect x="715" y="518.4" width="1" height="5.0" fill="#22a38f"/>
<rect x="714" y="520.0" width="3" height="1.9" fill="#22a38f"/>
<rect x="718" y="505.0" width="1" height="16.5" fill="#22a38f"/>
<rect x="717" y="505.9" width="3" height="14.1" fill="#22a38f"/>
<rect x="721" y="481.6" width="1" height="24.8" fill="#22a38f"/>
<rect x="720" y="485.8" width="3" height="20.2" fill="#22a38f"/>
<rect x="724" y="452.0" width="1" height="35.3" fill="#22a38f"/>
<rect x="723" y="461.0" width="3" height="24.8" fill="#22a38f"/>
<rect x="727" y="451.1" width="1" height="49.1" fill="#ea4050"/>
<rect x="726" y="461.0" width="3" height="29.6" fill="#ea4050"/>
<rect x="730" y="479.2" width="1" height="13.5" fill="#22a38f"/>
<rect x="729" y="481.4" width="3" height="9.2" fill="#22a38f"/>
<rect x="733" y="447.8" width="1" height="38.6" fill="#22a38f"/>
<rect x="732" y="457.1" width="3" height="24.3" fill="#22a38f"/>
<rect x="736" y="454.7" width="1" height="7.1" fill="#ea4050"/>
<rect x="735" y="457.1" width="3" height="3.6" fill="#ea4050"/>
<rect x="739" y="456.4" width="1" height="10.3" fill="#ea4050"/>
<rect x="738" y="460.7" width="3" height="4.1" fill="#ea4050"/>
<rect x="742" y="458.0" width="1" height="10.9" fill="#22a38f"/>
<rect x="741" y="461.9" width="3" height="2.9" fill="#22a38f"/>
<rect x="745" y="452.6" width="1" height="12.6" fill="#22a38f"/>
<rect x="744" y="454.7" width="3" height="7.3" fill="#22a38f"/>
<rect x="747" y="442.9" width="1" height="32.1" fill="#ea4050"/>
<rect x="746" y="454.7" width="3" height="9.0" fill="#ea4050"/>
<rect x="750" y="455.6" width="1" height="32.9" fill="#ea4050"/>
<rect x="749" y="463.6" width="3" height="17.7" fill="#ea4050"/>
<rect x="753" y="457.1" width="1" height="25.2" fill="#22a38f"/>
<rect x="752" y="462.9" width="3" height="18.5" fill="#22a38f"/>
<rect x="756" y="453.9" width="1" height="16.8" fill="#22a38f"/>
<rect x="755" y="459.0" width="3" height="3.9" fill="#22a38f"/>
<rect x="759" y="455.9" width="1" height="32.7" fill="#ea4050"/>
<rect x="758" y="459.0" width="3" height="28.7" fill="#ea4050"/>
<rect x="762" y="485.8" width="1" height="41.7" fill="#ea4050"/>
<rect x="761" y="487.7" width="3" height="28.4" fill="#ea4050"/>
<rect x="765" y="512.5" width="1" height="6.4" fill="#22a38f"/>
<rect x="764" y="513.9" width="3" height="2.2" fill="#22a38f"/>
<rect x="768" y="510.8" width="1" height="9.2" fill="#22a38f"/>
<rect x="767" y="513.5" width="3" height="1.0" fill="#22a38f"/>
<rect x="771" y="499.5" width="1" height="15.6" fill="#22a38f"/>
<rect x="770" y="502.0" width="3" height="11.4" fill="#22a38f"/>
<rect x="774" y="501.0" width="1" height="14.2" fill="#ea4050"/>
<rect x="773" y="502.0" width="3" height="12.1" fill="#ea4050"/>
<rect x="777" y="509.9" width="1" height="20.5" fill="#ea4050"/>
<rect x="776" y="514.2" width="3" height="1.9" fill="#ea4050"/>
<rect x="780" y="508.2" width="1" height="12.9" fill="#ea4050"/>
<rect x="779" y="516.1" width="3" height="1.2" fill="#ea4050"/>
<rect x="783" y="516.2" width="1" height="1.8" fill="#22a38f"/>
<rect x="782" y="517.1" width="3" height="1.0" fill="#22a38f"/>
<rect x="786" y="516.4" width="1" height="7.9" fill="#ea4050"/>
<rect x="785" y="517.1" width="3" height="6.1" fill="#ea4050"/>
<rect x="789" y="512.3" width="1" height="13.7" fill="#22a38f"/>
<rect x="788" y="514.4" width="3" height="8.7" fill="#22a38f"/>
<rect x="792" y="500.4" width="1" height="16.9" fill="#22a38f"/>
<rect x="791" y="503.7" width="3" height="10.7" fill="#22a38f"/>
<rect x="795" y="489.5" width="1" height="16.4" fill="#22a38f"/>
<rect x="794" y="492.1" width="3" height="11.7" fill="#22a38f"/>
<rect x="798" y="484.7" width="1" height="11.1" fill="#22a38f"/>
<rect x="797" y="486.2" width="3" height="5.8" fill="#22a38f"/>
<rect x="800" y="478.2" width="1" height="10.9" fill="#22a38f"/>
<rect x="799" y="480.7" width="3" height="5.6" fill="#22a38f"/>
<rect x="803" y="477.9" width="1" height="11.2" fill="#ea4050"/>
<rect x="802" y="480.7" width="3" height="5.2" fill="#ea4050"/>
<rect x="806" y="476.9" width="1" height="11.3" fill="#22a38f"/>
<rect x="805" y="479.2" width="3" height="6.7" fill="#22a38f"/>
<rect x="809" y="468.8" width="1" height="24.9" fill="#ea4050"/>
<rect x="808" y="479.2" width="3" height="4.1" fill="#ea4050"/>
<rect x="812" y="482.6" width="1" height="5.9" fill="#ea4050"/>
<rect x="811" y="483.3" width="3" height="2.2" fill="#ea4050"/>
<rect x="815" y="480.2" width="1" height="21.2" fill="#ea4050"/>
<rect x="814" y="485.5" width="3" height="10.0" fill="#ea4050"/>
<rect x="818" y="481.4" width="1" height="17.6" fill="#22a38f"/>
<rect x="817" y="483.3" width="3" height="12.1" fill="#22a38f"/>
<rect x="821" y="457.4" width="1" height="35.6" fill="#22a38f"/>
<rect x="820" y="467.0" width="3" height="16.3" fill="#22a38f"/>
<rect x="824" y="449.7" width="1" height="18.7" fill="#22a38f"/>
<rect x="823" y="451.0" width="3" height="16.0" fill="#22a38f"/>
<rect x="827" y="445.2" width="1" height="14.0" fill="#ea4050"/>
<rect x="826" y="451.0" width="3" height="1.0" fill="#ea4050"/>
<rect x="830" y="444.2" width="1" height="15.7" fill="#22a38f"/>
<rect x="829" y="451.5" width="3" height="1.0" fill="#22a38f"/>
<rect x="833" y="440.3" width="1" height="12.2" fill="#22a38f"/>
<rect x="832" y="444.9" width="3" height="6.6" fill="#22a38f"/>
<rect x="836" y="432.8" width="1" height="23.5" fill="#22a38f"/>
<rect x="835" y="441.3" width="3" height="3.6" fill="#22a38f"/>
<rect x="839" y="437.6" width="1" height="21.3" fill="#ea4050"/>
<rect x="838" y="441.3" width="3" height="15.8" fill="#ea4050"/>
<rect x="842" y="453.2" width="1" height="12.3" fill="#ea4050"/>
<rect x="841" y="457.1" width="3" height="4.4" fill="#ea4050"/>
<rect x="845" y="460.5" width="1" height="22.5" fill="#ea4050"/>
<rect x="844" y="461.5" width="3" height="19.0" fill="#ea4050"/>
<rect x="848" y="475.5" width="1" height="6.9" fill="#22a38f"/>
<rect x="847" y="478.7" width="3" height="1.7" fill="#22a38f"/>
<rect x="850" y="478.0" width="1" height="11.4" fill="#ea4050"/>
<rect x="849" y="478.7" width="3" height="8.3" fill="#ea4050"/>
<rect x="853" y="471.0" width="1" height="19.8" fill="#22a38f"/>
<rect x="852" y="477.0" width="3" height="10.0" fill="#22a38f"/>
<rect x="856" y="471.3" width="1" height="17.1" fill="#ea4050"/>
<rect x="855" y="477.0" width="3" height="8.5" fill="#ea4050"/>
<rect x="859" y="481.1" width="1" height="20.7" fill="#ea4050"/>
<rect x="858" y="485.5" width="3" height="13.4" fill="#ea4050"/>
<rect x="862" y="495.1" width="1" height="6.1" fill="#22a38f"/>
<rect x="861" y="495.7" width="3" height="3.2" fill="#22a38f"/>
<rect x="865" y="492.4" width="1" height="21.7" fill="#ea4050"/>
<rect x="864" y="495.7" width="3" height="16.5" fill="#ea4050"/>
<rect x="868" y="502.6" width="1" height="11.3" fill="#22a38f"/>
<rect x="867" y="508.4" width="3" height="3.9" fill="#22a38f"/>
<rect x="871" y="495.9" width="1" height="14.1" fill="#22a38f"/>
<rect x="870" y="497.4" width="3" height="10.9" fill="#22a38f"/>
<rect x="874" y="495.6" width="1" height="8.0" fill="#ea4050"/>
<rect x="873" y="497.4" width="3" height="1.0" fill="#ea4050"/>
<rect x="877" y="493.8" width="1" height="15.1" fill="#ea4050"/>
<rect x="876" y="497.9" width="3" height="9.2" fill="#ea4050"/>
<rect x="880" y="503.8" width="1" height="12.8" fill="#ea4050"/>
<rect x="879" y="507.1" width="3" height="1.7" fill="#ea4050"/>
<rect x="883" y="505.0" width="1" height="6.7" fill="#22a38f"/>
<rect x="882" y="506.2" width="3" height="2.7" fill="#22a38f"/>
<rect x="886" y="502.4" width="1" height="8.3" fill="#ea4050"/>
<rect x="885" y="506.2" width="3" height="2.4" fill="#ea4050"/>
<rect x="889" y="498.9" width="1" height="11.4" fill="#22a38f"/>
<rect x="888" y="500.1" width="3" height="8.5" fill="#22a38f"/>
<rect x="892" y="479.5" width="1" height="22.0" fill="#22a38f"/>
<rect x="891" y="486.7" width="3" height="13.4" fill="#22a38f"/>
<rect x="895" y="485.2" width="1" height="7.6" fill="#ea4050"/>
<rect x="894" y="486.7" width="3" height="1.0" fill="#ea4050"/>
<rect x="898" y="487.0" width="1" height="11.7" fill="#ea4050"/>
<rect x="897" y="487.7" width="3" height="10.2" fill="#ea4050"/>
<rect x="900" y="493.6" width="1" height="14.4" fill="#ea4050"/>
<rect x="899" y="497.9" width="3" height="6.1" fill="#ea4050"/>
<rect x="903" y="496.9" width="1" height="14.3" fill="#ea4050"/>
<rect x="902" y="504.0" width="3" height="1.0" fill="#ea4050"/>
<rect x="906" y="503.4" width="1" height="7.2" fill="#ea4050"/>
<rect x="905" y="504.6" width="3" height="2.3" fill="#ea4050"/>
<rect x="909" y="506.2" width="1" height="15.2" fill="#ea4050"/>
<rect x="908" y="506.9" width="3" height="10.2" fill="#ea4050"/>
<rect x="912" y="515.4" width="1" height="10.4" fill="#ea4050"/>
<rect x="911" y="517.1" width="3" height="7.3" fill="#ea4050"/>
<rect x="915" y="524.0" width="1" height="5.9" fill="#ea4050"/>
<rect x="914" y="524.4" width="3" height="4.5" fill="#ea4050"/>
<rect x="918" y="525.9" width="1" height="3.7" fill="#22a38f"/>
<rect x="917" y="528.9" width="3" height="1.0" fill="#22a38f"/>
<rect x="921" y="526.0" width="1" height="5.7" fill="#22a38f"/>
<rect x="920" y="527.8" width="3" height="1.1" fill="#22a38f"/>
<rect x="924" y="522.7" width="1" height="15.6" fill="#ea4050"/>
<rect x="923" y="527.8" width="3" height="8.0" fill="#ea4050"/>
<rect x="927" y="534.6" width="1" height="23.1" fill="#ea4050"/>
<rect x="926" y="535.8" width="3" height="14.8" fill="#ea4050"/>
<rect x="930" y="548.3" width="1" height="4.3" fill="#22a38f"/>
<rect x="929" y="549.4" width="3" height="1.2" fill="#22a38f"/>
<rect x="933" y="549.0" width="1" height="4.4" fill="#ea4050"/>
<rect x="932" y="549.4" width="3" height="1.9" fill="#ea4050"/>
<rect x="936" y="546.7" width="1" height="5.1" fill="#22a38f"/>
<rect x="935" y="549.9" width="3" height="1.5" fill="#22a38f"/>
<rect x="939" y="549.6" width="1" height="2.0" fill="#22a38f"/>
<rect x="938" y="549.9" width="3" height="1.0" fill="#22a38f"/>
<rect x="942" y="543.8" width="1" height="7.9" fill="#22a38f"/>
<rect x="941" y="545.5" width="3" height="4.4" fill="#22a38f"/>
<rect x="945" y="543.0" width="1" height="4.9" fill="#22a38f"/>
<rect x="944" y="543.8" width="3" height="1.7" fill="#22a38f"/>
<rect x="948" y="542.7" width="1" height="4.0" fill="#ea4050"/>
<rect x="947" y="543.8" width="3" height="1.0" fill="#ea4050"/>
<rect x="951" y="540.3" width="1" height="4.1" fill="#22a38f"/>
<rect x="950" y="541.2" width="3" height="2.9" fill="#22a38f"/>
<rect x="953" y="537.0" width="1" height="13.8" fill="#ea4050"/>
<rect x="952" y="541.2" width="3" height="7.0" fill="#ea4050"/>
<rect x="956" y="547.8" width="1" height="5.3" fill="#ea4050"/>
<rect x="955" y="548.2" width="3" height="3.6" fill="#ea4050"/>
<rect x="959" y="549.5" width="1" height="5.2" fill="#ea4050"/>
<rect x="958" y="551.9" width="3" height="1.0" fill="#ea4050"/>
<rect x="962" y="546.7" width="1" height="6.8" fill="#22a38f"/>
<rect x="961" y="547.5" width="3" height="4.9" fill="#22a38f"/>
<rect x="965" y="544.9" width="1" height="9.1" fill="#ea4050"/>
<rect x="964" y="547.5" width="3" height="5.8" fill="#ea4050"/>
<rect x="968" y="550.4" width="1" height="7.0" fill="#ea4050"/>
<rect x="967" y="553.3" width="3" height="1.0" fill="#ea4050"/>
<rect x="971" y="551.2" width="1" height="4.4" fill="#22a38f"/>
<rect x="970" y="553.6" width="3" height="1.0" fill="#22a38f"/>
<rect x="974" y="552.7" width="1" height="2.9" fill="#ea4050"/>
<rect x="973" y="553.6" width="3" height="1.0" fill="#ea4050"/>
<rect x="977" y="553.3" width="1" height="2.1" fill="#22a38f"/>
<rect x="976" y="553.8" width="3" height="1.0" fill="#22a38f"/>
<rect x="980" y="549.5" width="1" height="4.5" fill="#22a38f"/>
<rect x="979" y="549.9" width="3" height="3.9" fill="#22a38f"/>
<rect x="983" y="548.8" width="1" height="3.9" fill="#22a38f"/>
<rect x="982" y="549.9" width="3" height="1.0" fill="#22a38f"/>
<rect x="986" y="544.0" width="1" height="7.3" fill="#22a38f"/>
<rect x="985" y="548.7" width="3" height="1.2" fill="#22a38f"/>
<rect x="989" y="548.3" width="1" height="14.5" fill="#ea4050"/>
<rect x="988" y="548.7" width="3" height="12.1" fill="#ea4050"/>
<rect x="992" y="559.5" width="1" height="2.2" fill="#22a38f"/>
<rect x="991" y="560.8" width="3" height="1.0" fill="#22a38f"/>
<rect x="995" y="558.8" width="1" height="3.3" fill="#22a38f"/>
<rect x="994" y="560.1" width="3" height="1.0" fill="#22a38f"/>
<rect x="998" y="556.2" width="1" height="6.0" fill="#22a38f"/>
<rect x="997" y="558.9" width="3" height="1.2" fill="#22a38f"/>
<rect x="1001" y="557.6" width="1" height="1.9" fill="#22a38f"/>
<rect x="1000" y="558.9" width="3" height="1.0" fill="#22a38f"/>
<rect x="1003" y="557.9" width="1" height="3.6" fill="#ea4050"/>
<rect x="1002" y="558.9" width="3" height="1.0" fill="#ea4050"/>
<rect x="1006" y="559.1" width="1" height="1.3" fill="#ea4050"/>
<rect x="1005" y="559.6" width="3" height="1.0" fill="#ea4050"/>
<rect x="1009" y="558.5" width="1" height="2.5" fill="#ea4050"/>
<rect x="1008" y="559.9" width="3" height="1.0" fill="#ea4050"/>
<rect x="1012" y="558.1" width="1" height="3.8" fill="#22a38f"/>
<rect x="1011" y="558.9" width="3" height="1.2" fill="#22a38f"/>
<rect x="1015" y="548.8" width="1" height="11.9" fill="#22a38f"/>
<rect x="1014" y="549.7" width="3" height="9.2" fill="#22a38f"/>
<rect x="1018" y="541.7" width="1" height="8.5" fill="#22a38f"/>
<rect x="1017" y="545.3" width="3" height="4.4" fill="#22a38f"/>
<rect x="1021" y="542.2" width="1" height="5.5" fill="#22a38f"/>
<rect x="1020" y="544.6" width="3" height="1.0" fill="#22a38f"/>
<rect x="1024" y="544.1" width="1" height="2.5" fill="#ea4050"/>
<rect x="1023" y="544.6" width="3" height="1.0" fill="#ea4050"/>
<rect x="1027" y="544.2" width="1" height="5.1" fill="#ea4050"/>
<rect x="1026" y="544.8" width="3" height="2.7" fill="#ea4050"/>
<rect x="1030" y="538.1" width="1" height="10.7" fill="#22a38f"/>
<rect x="1029" y="541.4" width="3" height="6.1" fill="#22a38f"/>
<rect x="1033" y="538.9" width="1" height="6.8" fill="#ea4050"/>
<rect x="1032" y="541.4" width="3" height="2.8" fill="#ea4050"/>
<rect x="1036" y="540.0" width="1" height="11.4" fill="#ea4050"/>
<rect x="1035" y="544.2" width="3" height="6.6" fill="#ea4050"/>
<rect x="1039" y="544.6" width="1" height="7.0" fill="#22a38f"/>
<rect x="1038" y="546.7" width="3" height="4.0" fill="#22a38f"/>
<rect x="1042" y="531.8" width="1" height="15.6" fill="#22a38f"/>
<rect x="1041" y="532.5" width="3" height="14.2" fill="#22a38f"/>
<rect x="1045" y="530.8" width="1" height="4.7" fill="#ea4050"/>
<rect x="1044" y="532.5" width="3" height="1.1" fill="#ea4050"/>
<rect x="1048" y="531.7" width="1" height="3.0" fill="#22a38f"/>
<rect x="1047" y="532.0" width="3" height="1.6" fill="#22a38f"/>
<rect x="1051" y="525.2" width="1" height="8.5" fill="#22a38f"/>
<rect x="1050" y="526.5" width="3" height="5.6" fill="#22a38f"/>
<rect x="1053" y="524.1" width="1" height="4.4" fill="#ea4050"/>
<rect x="1052" y="526.5" width="3" height="1.0" fill="#ea4050"/>
<rect x="1056" y="526.2" width="1" height="7.8" fill="#ea4050"/>
<rect x="1055" y="526.8" width="3" height="6.1" fill="#ea4050"/>
<rect x="1059" y="526.7" width="1" height="6.9" fill="#22a38f"/>
<rect x="1058" y="529.4" width="3" height="3.5" fill="#22a38f"/>
<rect x="1062" y="527.4" width="1" height="8.8" fill="#ea4050"/>
<rect x="1061" y="529.4" width="3" height="5.7" fill="#ea4050"/>
<rect x="1065" y="534.0" width="1" height="3.6" fill="#22a38f"/>
<rect x="1064" y="535.1" width="3" height="1.0" fill="#22a38f"/>
<rect x="1068" y="532.9" width="1" height="3.4" fill="#22a38f"/>
<rect x="1067" y="534.6" width="3" height="1.0" fill="#22a38f"/>
<rect x="1071" y="530.3" width="1" height="7.4" fill="#22a38f"/>
<rect x="1070" y="533.1" width="3" height="1.5" fill="#22a38f"/>
<rect x="1074" y="532.3" width="1" height="7.4" fill="#ea4050"/>
<rect x="1073" y="533.1" width="3" height="4.4" fill="#ea4050"/>
<rect x="1077" y="537.2" width="1" height="4.4" fill="#ea4050"/>
<rect x="1076" y="537.5" width="3" height="1.9" fill="#ea4050"/>
<rect x="1080" y="534.0" width="1" height="6.9" fill="#22a38f"/>
<rect x="1079" y="536.5" width="3" height="2.9" fill="#22a38f"/>
<rect x="1083" y="523.0" width="1" height="14.7" fill="#22a38f"/>
<rect x="1082" y="526.3" width="3" height="10.2" fill="#22a38f"/>
<rect x="1086" y="524.5" width="1" height="3.6" fill="#22a38f"/>
<rect x="1085" y="526.1" width="3" height="1.0" fill="#22a38f"/>
<rect x="1089" y="525.1" width="1" height="6.2" fill="#ea4050"/>
<rect x="1088" y="526.1" width="3" height="1.0" fill="#ea4050"/>
<rect x="1092" y="525.0" width="1" height="2.8" fill="#ea4050"/>
<rect x="1091" y="526.8" width="3" height="1.0" fill="#ea4050"/>
<rect x="1095" y="525.2" width="1" height="7.0" fill="#ea4050"/>
<rect x="1094" y="526.9" width="3" height="2.6" fill="#ea4050"/>
<rect x="1098" y="527.8" width="1" height="3.8" fill="#22a38f"/>
<rect x="1097" y="529.3" width="3" height="1.0" fill="#22a38f"/>
<rect x="1101" y="527.5" width="1" height="3.6" fill="#ea4050"/>
<rect x="1100" y="529.3" width="3" height="1.0" fill="#ea4050"/>
<rect x="1103" y="522.1" width="1" height="11.3" fill="#22a38f"/>
<rect x="1102" y="529.0" width="3" height="1.0" fill="#22a38f"/>
<rect x="1106" y="526.7" width="1" height="11.4" fill="#ea4050"/>
<rect x="1105" y="529.0" width="3" height="8.0" fill="#ea4050"/>
<rect x="1109" y="533.2" width="1" height="9.0" fill="#ea4050"/>
<rect x="1108" y="537.0" width="3" height="1.0" fill="#ea4050"/>
<rect x="1112" y="535.4" width="1" height="2.9" fill="#ea4050"/>
<rect x="1111" y="537.3" width="3" height="1.0" fill="#ea4050"/>
<rect x="1115" y="535.0" width="1" height="5.2" fill="#ea4050"/>
<rect x="1114" y="537.5" width="3" height="1.0" fill="#ea4050"/>
<rect x="1118" y="535.2" width="1" height="3.6" fill="#22a38f"/>
<rect x="1117" y="535.9" width="3" height="1.7" fill="#22a38f"/>
<rect x="1121" y="534.4" width="1" height="3.0" fill="#ea4050"/>
<rect x="1120" y="535.9" width="3" height="1.0" fill="#ea4050"/>
<rect x="1124" y="530.5" width="1" height="8.5" fill="#22a38f"/>
<rect x="1123" y="532.5" width="3" height="4.1" fill="#22a38f"/>
<rect x="1127" y="531.0" width="1" height="3.5" fill="#ea4050"/>
<rect x="1126" y="532.5" width="3" height="1.0" fill="#ea4050"/>
<rect x="1130" y="530.6" width="1" height="5.2" fill="#ea4050"/>
<rect x="1129" y="532.7" width="3" height="2.6" fill="#ea4050"/>
<rect x="1133" y="525.2" width="1" height="12.6" fill="#22a38f"/>
<rect x="1132" y="527.8" width="3" height="7.4" fill="#22a38f"/>
<rect x="1136" y="514.9" width="1" height="14.8" fill="#22a38f"/>
<rect x="1135" y="516.6" width="3" height="11.2" fill="#22a38f"/>
<rect x="1139" y="512.6" width="1" height="6.1" fill="#22a38f"/>
<rect x="1138" y="515.4" width="3" height="1.2" fill="#22a38f"/>
<rect x="1142" y="509.9" width="1" height="8.3" fill="#22a38f"/>
<rect x="1141" y="510.4" width="3" height="5.0" fill="#22a38f"/>
<rect x="1145" y="508.0" width="1" height="6.1" fill="#22a38f"/>
<rect x="1144" y="509.4" width="3" height="1.0" fill="#22a38f"/>
<rect x="1148" y="505.9" width="1" height="5.2" fill="#22a38f"/>
<rect x="1147" y="509.4" width="3" height="1.0" fill="#22a38f"/>
<rect x="1151" y="502.4" width="1" height="8.0" fill="#22a38f"/>
<rect x="1150" y="503.4" width="3" height="6.1" fill="#22a38f"/>
<rect x="1154" y="493.1" width="1" height="12.7" fill="#22a38f"/>
<rect x="1153" y="494.0" width="3" height="9.4" fill="#22a38f"/>
<rect x="1156" y="493.3" width="1" height="10.3" fill="#ea4050"/>
<rect x="1155" y="494.0" width="3" height="6.0" fill="#ea4050"/>
<rect x="1159" y="493.2" width="1" height="9.6" fill="#22a38f"/>
<rect x="1158" y="496.1" width="3" height="3.9" fill="#22a38f"/>
<rect x="1162" y="495.3" width="1" height="5.5" fill="#ea4050"/>
<rect x="1161" y="496.1" width="3" height="1.7" fill="#ea4050"/>
<rect x="1165" y="489.0" width="1" height="9.8" fill="#22a38f"/>
<rect x="1164" y="493.7" width="3" height="4.1" fill="#22a38f"/>
<rect x="1168" y="484.3" width="1" height="21.5" fill="#ea4050"/>
<rect x="1167" y="493.7" width="3" height="5.5" fill="#ea4050"/>
<rect x="1171" y="497.1" width="1" height="10.6" fill="#ea4050"/>
<rect x="1170" y="499.1" width="3" height="1.0" fill="#ea4050"/>
<rect x="1174" y="493.2" width="1" height="11.1" fill="#22a38f"/>
<rect x="1173" y="498.4" width="3" height="1.1" fill="#22a38f"/>
<rect x="1177" y="493.8" width="1" height="8.1" fill="#22a38f"/>
<rect x="1176" y="496.9" width="3" height="1.5" fill="#22a38f"/>
<rect x="1180" y="481.2" width="1" height="18.6" fill="#22a38f"/>
<rect x="1179" y="483.1" width="3" height="13.9" fill="#22a38f"/>
<rect x="1183" y="469.5" width="1" height="15.2" fill="#22a38f"/>
<rect x="1182" y="473.7" width="3" height="9.4" fill="#22a38f"/>
<rect x="1186" y="471.7" width="1" height="8.6" fill="#ea4050"/>
<rect x="1185" y="473.7" width="3" height="1.0" fill="#ea4050"/>
<rect x="1189" y="443.4" width="1" height="34.9" fill="#22a38f"/>
<rect x="1188" y="447.1" width="3" height="27.6" fill="#22a38f"/>
<rect x="1192" y="429.5" width="1" height="18.7" fill="#22a38f"/>
<rect x="1191" y="432.9" width="3" height="14.2" fill="#22a38f"/>
<rect x="1195" y="421.1" width="1" height="19.0" fill="#ea4050"/>
<rect x="1194" y="432.9" width="3" height="1.3" fill="#ea4050"/>
<rect x="1198" y="424.0" width="1" height="15.7" fill="#ea4050"/>
<rect x="1197" y="434.2" width="3" height="2.9" fill="#ea4050"/>
<rect x="1201" y="428.9" width="1" height="15.5" fill="#22a38f"/>
<rect x="1200" y="431.2" width="3" height="6.0" fill="#22a38f"/>
<rect x="1204" y="424.3" width="1" height="16.5" fill="#22a38f"/>
<rect x="1203" y="428.8" width="3" height="2.4" fill="#22a38f"/>
<rect x="1206" y="422.7" width="1" height="30.4" fill="#ea4050"/>
<rect x="1205" y="428.8" width="3" height="16.4" fill="#ea4050"/>
<rect x="1209" y="437.0" width="1" height="12.0" fill="#22a38f"/>
<rect x="1208" y="442.6" width="3" height="2.6" fill="#22a38f"/>
<rect x="1212" y="436.6" width="1" height="12.1" fill="#ea4050"/>
<rect x="1211" y="442.6" width="3" height="3.6" fill="#ea4050"/>
<rect x="1215" y="435.4" width="1" height="17.3" fill="#22a38f"/>
<rect x="1214" y="445.2" width="3" height="1.1" fill="#22a38f"/>
<rect x="1218" y="439.4" width="1" height="14.2" fill="#ea4050"/>
<rect x="1217" y="445.2" width="3" height="5.8" fill="#ea4050"/>
<rect x="1221" y="438.0" width="1" height="22.3" fill="#22a38f"/>
<rect x="1220" y="439.3" width="3" height="11.7" fill="#22a38f"/>
<rect x="1224" y="429.7" width="1" height="15.9" fill="#22a38f"/>
<rect x="1223" y="434.2" width="3" height="5.1" fill="#22a38f"/>
<rect x="1227" y="427.4" width="1" height="12.0" fill="#ea4050"/>
<rect x="1226" y="434.2" width="3" height="1.5" fill="#ea4050"/>
<rect x="1230" y="430.2" width="1" height="7.1" fill="#22a38f"/>
<rect x="1229" y="431.2" width="3" height="4.5" fill="#22a38f"/>
<rect x="1233" y="426.2" width="1" height="17.9" fill="#ea4050"/>
<rect x="1232" y="431.2" width="3" height="7.3" fill="#ea4050"/>
<rect x="1236" y="435.8" width="1" height="14.9" fill="#ea4050"/>
<rect x="1235" y="438.5" width="3" height="8.4" fill="#ea4050"/>
<rect x="1239" y="445.9" width="1" height="3.1" fill="#ea4050"/>
<rect x="1238" y="446.9" width="3" height="1.3" fill="#ea4050"/>
<rect x="1242" y="446.8" width="1" height="20.5" fill="#ea4050"/>
<rect x="1241" y="448.2" width="3" height="16.5" fill="#ea4050"/>
<rect x="1245" y="449.1" width="1" height="19.0" fill="#22a38f"/>
<rect x="1244" y="452.7" width="3" height="12.0" fill="#22a38f"/>
<rect x="1248" y="430.6" width="1" height="25.2" fill="#22a38f"/>
<rect x="1247" y="434.8" width="3" height="17.9" fill="#22a38f"/>
<rect x="1251" y="428.9" width="1" height="8.0" fill="#22a38f"/>
<rect x="1250" y="434.6" width="3" height="1.0" fill="#22a38f"/>
<rect x="1254" y="433.3" width="1" height="29.5" fill="#ea4050"/>
<rect x="1253" y="434.6" width="3" height="24.7" fill="#ea4050"/>
<rect x="1256" y="447.7" width="1" height="33.7" fill="#22a38f"/>
<rect x="1255" y="457.8" width="3" height="1.5" fill="#22a38f"/>
<rect x="1259" y="456.4" width="1" height="5.3" fill="#22a38f"/>
<rect x="1258" y="457.2" width="3" height="1.0" fill="#22a38f"/>
<rect x="1262" y="440.7" width="1" height="22.1" fill="#22a38f"/>
<rect x="1261" y="444.3" width="3" height="12.9" fill="#22a38f"/>
<rect x="1265" y="437.1" width="1" height="29.3" fill="#ea4050"/>
<rect x="1264" y="444.3" width="3" height="16.9" fill="#ea4050"/>
<rect x="1268" y="456.2" width="1" height="13.5" fill="#ea4050"/>
<rect x="1267" y="461.2" width="3" height="7.7" fill="#ea4050"/>
<rect x="1271" y="451.2" width="1" height="19.9" fill="#22a38f"/>
<rect x="1270" y="454.9" width="3" height="14.0" fill="#22a38f"/>
<rect x="1274" y="442.2" width="1" height="13.4" fill="#22a38f"/>
<rect x="1273" y="446.6" width="3" height="8.3" fill="#22a38f"/>
<rect x="1277" y="432.5" width="1" height="16.1" fill="#22a38f"/>
<rect x="1276" y="441.0" width="3" height="5.6" fill="#22a38f"/>
<rect x="1280" y="437.1" width="1" height="14.1" fill="#ea4050"/>
<rect x="1279" y="441.0" width="3" height="6.8" fill="#ea4050"/>
<rect x="1283" y="439.4" width="1" height="10.8" fill="#22a38f"/>
<rect x="1282" y="447.6" width="3" height="1.0" fill="#22a38f"/>
<rect x="1286" y="430.1" width="1" height="18.6" fill="#22a38f"/>
<rect x="1285" y="432.8" width="3" height="14.8" fill="#22a38f"/>
<rect x="1289" y="420.5" width="1" height="25.8" fill="#ea4050"/>
<rect x="1288" y="432.8" width="3" height="2.4" fill="#ea4050"/>
<rect x="1292" y="428.3" width="1" height="11.4" fill="#22a38f"/>
<rect x="1291" y="433.4" width="3" height="1.8" fill="#22a38f"/>
<rect x="1295" y="397.5" width="1" height="40.2" fill="#22a38f"/>
<rect x="1294" y="405.1" width="3" height="28.3" fill="#22a38f"/>
<rect x="1298" y="380.2" width="1" height="27.3" fill="#22a38f"/>
<rect x="1297" y="382.1" width="3" height="23.0" fill="#22a38f"/>
<rect x="1301" y="358.7" width="1" height="29.4" fill="#22a38f"/>
<rect x="1300" y="362.3" width="3" height="19.8" fill="#22a38f"/>
<rect x="1304" y="348.1" width="1" height="26.6" fill="#ea4050"/>
<rect x="1303" y="362.3" width="3" height="1.0" fill="#ea4050"/>
<rect x="1306" y="348.6" width="1" height="18.7" fill="#22a38f"/>
<rect x="1305" y="354.7" width="3" height="7.9" fill="#22a38f"/>
<rect x="1309" y="335.4" width="1" height="25.3" fill="#22a38f"/>
<rect x="1308" y="346.6" width="3" height="8.0" fill="#22a38f"/>
<rect x="1312" y="337.2" width="1" height="36.2" fill="#ea4050"/>
<rect x="1311" y="346.6" width="3" height="22.6" fill="#ea4050"/>
<rect x="1315" y="367.8" width="1" height="9.4" fill="#ea4050"/>
<rect x="1314" y="369.2" width="3" height="1.7" fill="#ea4050"/>
<rect x="1318" y="354.7" width="1" height="24.7" fill="#22a38f"/>
<rect x="1317" y="361.9" width="3" height="9.0" fill="#22a38f"/>
<rect x="1321" y="355.3" width="1" height="30.8" fill="#ea4050"/>
<rect x="1320" y="361.9" width="3" height="8.9" fill="#ea4050"/>
<rect x="1324" y="350.8" width="1" height="29.0" fill="#22a38f"/>
<rect x="1323" y="354.3" width="3" height="16.5" fill="#22a38f"/>
<rect x="1327" y="334.1" width="1" height="31.0" fill="#22a38f"/>
<rect x="1326" y="352.7" width="3" height="1.6" fill="#22a38f"/>
<rect x="1330" y="340.0" width="1" height="44.6" fill="#ea4050"/>
<rect x="1329" y="352.7" width="3" height="10.9" fill="#ea4050"/>
<rect x="1333" y="349.3" width="1" height="24.7" fill="#ea4050"/>
<rect x="1332" y="363.6" width="3" height="2.4" fill="#ea4050"/>
<rect x="1336" y="355.8" width="1" height="17.1" fill="#ea4050"/>
<rect x="1335" y="366.1" width="3" height="1.0" fill="#ea4050"/>
<rect x="1339" y="360.6" width="1" height="8.1" fill="#22a38f"/>
<rect x="1338" y="366.6" width="3" height="1.0" fill="#22a38f"/>
<rect x="1342" y="362.4" width="1" height="48.1" fill="#ea4050"/>
<rect x="1341" y="366.6" width="3" height="5.0" fill="#ea4050"/>
<rect x="1345" y="363.8" width="1" height="43.6" fill="#ea4050"/>
<rect x="1344" y="371.5" width="3" height="32.8" fill="#ea4050"/>
<rect x="1348" y="398.2" width="1" height="7.4" fill="#22a38f"/>
<rect x="1347" y="399.4" width="3" height="5.0" fill="#22a38f"/>
<rect x="1351" y="381.7" width="1" height="27.7" fill="#22a38f"/>
<rect x="1350" y="391.3" width="3" height="8.0" fill="#22a38f"/>
<rect x="1354" y="389.4" width="1" height="20.2" fill="#ea4050"/>
<rect x="1353" y="391.3" width="3" height="9.0" fill="#ea4050"/>
<rect x="1357" y="390.0" width="1" height="17.8" fill="#22a38f"/>
<rect x="1356" y="397.5" width="3" height="2.8" fill="#22a38f"/>
<rect x="1359" y="394.7" width="1" height="24.7" fill="#22a38f"/>
<rect x="1358" y="396.9" width="3" height="1.0" fill="#22a38f"/>
<rect x="1362" y="368.7" width="1" height="31.3" fill="#22a38f"/>
<rect x="1361" y="387.8" width="3" height="9.1" fill="#22a38f"/>
<rect x="1365" y="370.7" width="1" height="18.5" fill="#22a38f"/>
<rect x="1364" y="372.6" width="3" height="15.2" fill="#22a38f"/>
<rect x="1368" y="354.9" width="1" height="30.6" fill="#22a38f"/>
<rect x="1367" y="371.3" width="3" height="1.3" fill="#22a38f"/>
<rect x="1371" y="333.9" width="1" height="43.8" fill="#22a38f"/>
<rect x="1370" y="347.7" width="3" height="23.6" fill="#22a38f"/>
<rect x="1374" y="339.6" width="1" height="15.3" fill="#22a38f"/>
<rect x="1373" y="341.7" width="3" height="6.1" fill="#22a38f"/>
<rect x="1377" y="328.5" width="1" height="18.0" fill="#22a38f"/>
<rect x="1376" y="335.6" width="3" height="6.1" fill="#22a38f"/>
<rect x="1380" y="332.2" width="1" height="15.0" fill="#ea4050"/>
<rect x="1379" y="335.6" width="3" height="8.1" fill="#ea4050"/>
<rect x="1383" y="335.9" width="1" height="14.6" fill="#22a38f"/>
<rect x="1382" y="343.5" width="3" height="1.0" fill="#22a38f"/>
<rect x="1386" y="329.6" width="1" height="36.8" fill="#ea4050"/>
<rect x="1385" y="343.5" width="3" height="1.0" fill="#ea4050"/>
<rect x="1389" y="342.2" width="1" height="20.0" fill="#ea4050"/>
<rect x="1388" y="344.0" width="3" height="11.2" fill="#ea4050"/>
<rect x="1392" y="326.9" width="1" height="33.1" fill="#22a38f"/>
<rect x="1391" y="337.2" width="3" height="18.0" fill="#22a38f"/>
<rect x="1395" y="324.4" width="1" height="17.8" fill="#22a38f"/>
<rect x="1394" y="335.1" width="3" height="2.1" fill="#22a38f"/>
<rect x="1398" y="307.4" width="1" height="47.2" fill="#22a38f"/>
<rect x="1397" y="311.0" width="3" height="24.1" fill="#22a38f"/>
<rect x="1401" y="301.1" width="1" height="13.3" fill="#22a38f"/>
<rect x="1400" y="309.0" width="3" height="2.1" fill="#22a38f"/>
<rect x="1404" y="287.0" width="1" height="24.7" fill="#ea4050"/>
<rect x="1403" y="309.0" width="3" height="1.2" fill="#ea4050"/>
<rect x="1407" y="302.0" width="1" height="32.7" fill="#ea4050"/>
<rect x="1406" y="310.2" width="3" height="12.6" fill="#ea4050"/>
<rect x="1409" y="304.4" width="1" height="22.9" fill="#22a38f"/>
<rect x="1408" y="310.6" width="3" height="12.3" fill="#22a38f"/>
<rect x="1412" y="298.0" width="1" height="40.1" fill="#ea4050"/>
<rect x="1411" y="310.6" width="3" height="4.6" fill="#ea4050"/>
<rect x="1415" y="311.5" width="1" height="21.4" fill="#ea4050"/>
<rect x="1414" y="315.2" width="3" height="9.5" fill="#ea4050"/>
<rect x="1418" y="321.8" width="1" height="24.9" fill="#ea4050"/>
<rect x="1417" y="324.6" width="3" height="12.8" fill="#ea4050"/>
<rect x="1421" y="322.5" width="1" height="21.8" fill="#22a38f"/>
<rect x="1420" y="330.4" width="3" height="7.0" fill="#22a38f"/>
<rect x="1424" y="305.7" width="1" height="33.1" fill="#22a38f"/>
<rect x="1423" y="320.3" width="3" height="10.1" fill="#22a38f"/>
<rect x="1427" y="314.3" width="1" height="17.9" fill="#ea4050"/>
<rect x="1426" y="320.3" width="3" height="1.0" fill="#ea4050"/>
<rect x="1430" y="311.4" width="1" height="18.0" fill="#ea4050"/>
<rect x="1429" y="320.4" width="3" height="7.4" fill="#ea4050"/>
<rect x="1433" y="296.2" width="1" height="41.1" fill="#22a38f"/>
<rect x="1432" y="300.3" width="3" height="27.5" fill="#22a38f"/>
<rect x="1436" y="293.8" width="1" height="58.8" fill="#ea4050"/>
<rect x="1435" y="300.3" width="3" height="20.4" fill="#ea4050"/>
<rect x="1439" y="315.0" width="1" height="27.5" fill="#ea4050"/>
<rect x="1438" y="320.8" width="3" height="15.7" fill="#ea4050"/>
<rect x="1442" y="306.0" width="1" height="43.9" fill="#22a38f"/>
<rect x="1441" y="322.2" width="3" height="14.2" fill="#22a38f"/>
<rect x="1445" y="317.3" width="1" height="17.5" fill="#ea4050"/>
<rect x="1444" y="322.2" width="3" height="9.6" fill="#ea4050"/>
<rect x="1448" y="331.4" width="1" height="19.9" fill="#ea4050"/>
<rect x="1447" y="331.8" width="3" height="16.2" fill="#ea4050"/>
<path d="M329.7,580.3 L332.7,580.4 L335.6,580.6 L338.5,580.8 L341.5,580.9 L344.4,580.9 L347.4,581.1 L350.3,581.3 L353.3,581.4 L356.2,581.5 L359.1,581.6 L362.1,581.7 L365.0,581.9 L368.0,582.0 L370.9,582.1 L373.9,582.2 L376.8,582.4 L379.7,582.7 L382.7,583.0 L385.6,583.4 L388.6,583.7 L391.5,584.0 L394.4,584.3 L397.4,584.5 L400.3,584.8 L403.3,585.1 L406.2,585.4 L409.2,585.6 L412.1,585.9 L415.0,586.1 L418.0,586.3 L420.9,586.5 L423.9,586.7 L426.8,586.8 L429.8,587.0 L432.7,587.1 L435.6,587.2 L438.6,587.2 L441.5,587.2 L444.5,587.2 L447.4,587.2 L450.3,587.0 L453.3,586.8 L456.2,586.5 L459.2,586.3 L462.1,586.1 L465.1,585.8 L468.0,585.4 L470.9,584.8 L473.9,584.4 L476.8,584.0 L479.8,583.7 L482.7,583.5 L485.7,583.0 L488.6,582.7 L491.5,582.4 L494.5,582.2 L497.4,581.9 L500.4,581.7 L503.3,581.4 L506.2,581.2 L509.2,581.2 L512.1,581.2 L515.1,581.1 L518.0,581.1 L521.0,581.0 L523.9,580.9 L526.8,580.8 L529.8,580.8 L532.7,580.9 L535.7,581.0 L538.6,581.0 L541.6,581.1 L544.5,581.2 L547.4,581.2 L550.4,581.3 L553.3,581.2 L556.3,581.1 L559.2,581.0 L562.1,580.9 L565.1,580.7 L568.0,580.6 L571.0,580.4 L573.9,580.4 L576.9,580.4 L579.8,580.7 L582.7,580.9 L585.7,581.1 L588.6,581.2 L591.6,581.3 L594.5,581.4 L597.5,581.4 L600.4,581.3 L603.3,581.2 L606.3,581.1 L609.2,581.0 L612.2,580.8 L615.1,580.7 L618.0,580.6 L621.0,580.5 L623.9,580.4 L626.9,580.3 L629.8,580.2 L632.8,580.1 L635.7,580.0 L638.6,579.8 L641.6,579.5 L644.5,579.1 L647.5,578.9 L650.4,578.6 L653.4,578.5 L656.3,578.4 L659.2,578.2 L662.2,578.0 L665.1,577.9 L668.1,577.7 L671.0,577.5 L673.9,577.2 L676.9,576.7 L679.8,576.2 L682.8,575.6 L685.7,574.8 L688.7,574.1 L691.6,573.3 L694.5,572.6 L697.5,571.4 L700.4,570.0 L703.4,568.1 L706.3,565.7 L709.3,563.6 L712.2,562.0 L715.1,560.3 L718.1,558.2 L721.0,555.4 L724.0,551.7 L726.9,549.3 L729.8,546.6 L732.8,543.1 L735.7,539.9 L738.7,536.9 L741.6,534.0 L744.6,530.9 L747.5,528.2 L750.4,526.4 L753.4,523.9 L756.3,521.4 L759.3,520.0 L762.2,519.9 L765.2,519.7 L768.1,519.4 L771.0,518.7 L774.0,518.6 L776.9,518.5 L779.9,518.4 L782.8,518.4 L785.7,518.6 L788.7,518.4 L791.6,517.8 L794.6,516.8 L797.5,515.6 L800.5,514.2 L803.4,513.1 L806.3,511.8 L809.3,510.7 L812.2,509.7 L815.2,509.1 L818.1,508.1 L821.1,506.5 L824.0,504.3 L826.9,502.3 L829.9,500.3 L832.8,498.1 L835.8,495.9 L838.7,494.4 L841.6,493.1 L844.6,492.6 L847.5,492.0 L850.5,491.8 L853.4,491.2 L856.4,491.0 L859.3,491.3 L862.2,491.5 L865.2,492.3 L868.1,492.9 L871.1,493.1 L874.0,493.3 L877.0,493.8 L879.9,494.4 L882.8,494.9 L885.8,495.4 L888.7,495.6 L891.7,495.3 L894.6,495.0 L897.5,495.1 L900.5,495.4 L903.4,495.8 L906.4,496.2 L909.3,497.0 L912.3,498.1 L915.2,499.3 L918.1,500.5 L921.1,501.6 L924.0,502.9 L927.0,504.8 L929.9,506.5 L932.9,508.3 L935.8,509.9 L938.7,511.5 L941.7,512.8 L944.6,514.0 L947.6,515.2 L950.5,516.2 L953.4,517.5 L956.4,518.8 L959.3,520.1 L962.3,521.2 L965.2,522.5 L968.2,523.7 L971.1,524.9 L974.0,526.0 L977.0,527.1 L979.9,528.0 L982.9,528.9 L985.8,529.7 L988.8,530.9 L991.7,532.1 L994.6,533.2 L997.6,534.2 L1000.5,535.1 L1003.5,536.1 L1006.4,537.0 L1009.3,537.9 L1012.3,538.8 L1015.2,539.2 L1018.2,539.4 L1021.1,539.6 L1024.1,539.8 L1027.0,540.1 L1029.9,540.2 L1032.9,540.3 L1035.8,540.7 L1038.8,541.0 L1041.7,540.6 L1044.7,540.4 L1047.6,540.0 L1050.5,539.5 L1053.5,539.0 L1056.4,538.8 L1059.4,538.4 L1062.3,538.3 L1065.2,538.1 L1068.2,538.0 L1071.1,537.8 L1074.1,537.8 L1077.0,537.9 L1080.0,537.8 L1082.9,537.4 L1085.8,536.9 L1088.8,536.5 L1091.7,536.2 L1094.7,535.9 L1097.6,535.6 L1100.6,535.4 L1103.5,535.2 L1106.4,535.2 L1109.4,535.3 L1112.3,535.4 L1115.3,535.5 L1118.2,535.5 L1121.1,535.5 L1124.1,535.4 L1127.0,535.3 L1130.0,535.3 L1132.9,535.0 L1135.9,534.3 L1138.8,533.6 L1141.7,532.6 L1144.7,531.7 L1147.6,530.9 L1150.6,529.8 L1153.5,528.4 L1156.5,527.3 L1159.4,526.0 L1162.3,524.9 L1165.3,523.7 L1168.2,522.7 L1171.2,521.8 L1174.1,520.9 L1177.0,520.0 L1180.0,518.5 L1182.9,516.8 L1185.9,515.1 L1188.8,512.5 L1191.8,509.3 L1194.7,506.4 L1197.6,503.7 L1200.6,500.8 L1203.5,498.0 L1206.5,495.9 L1209.4,493.8 L1212.4,492.0 L1215.3,490.1 L1218.2,488.6 L1221.2,486.7 L1224.1,484.6 L1227.1,482.7 L1230.0,480.7 L1232.9,479.0 L1235.9,477.8 L1238.8,476.6 L1241.8,476.1 L1244.7,475.2 L1247.7,473.6 L1250.6,472.1 L1253.5,471.6 L1256.5,471.1 L1259.4,470.5 L1262.4,469.5 L1265.3,469.2 L1268.3,469.2 L1271.2,468.6 L1274.1,467.7 L1277.1,466.7 L1280.0,465.9 L1283.0,465.2 L1285.9,464.0 L1288.8,462.8 L1291.8,461.7 L1294.7,459.5 L1297.7,456.4 L1300.6,452.7 L1303.6,449.2 L1306.5,445.5 L1309.4,441.6 L1312.4,438.8 L1315.3,436.1 L1318.3,433.2 L1321.2,430.8 L1324.2,427.8 L1327.1,424.8 L1330.0,422.4 L1333.0,420.2 L1335.9,418.1 L1338.9,416.1 L1341.8,414.3 L1344.7,414.0 L1347.7,413.4 L1350.6,412.5 L1353.6,412.0 L1356.5,411.5 L1359.5,410.9 L1362.4,410.0 L1365.3,408.5 L1368.3,407.1 L1371.2,404.7 L1374.2,402.3 L1377.1,399.7 L1380.1,397.5 L1383.0,395.3 L1385.9,393.3 L1388.9,391.8 L1391.8,389.7 L1394.8,387.5 L1397.7,384.5 L1400.6,381.6 L1403.6,378.8 L1406.5,376.6 L1409.5,374.0 L1412.4,371.7 L1415.4,369.8 L1418.3,368.6 L1421.2,367.1 L1424.2,365.2 L1427.1,363.5 L1430.1,362.1 L1433.0,359.7 L1436.0,358.1 L1438.9,357.3 L1441.8,355.9 L1444.8,355.0 L1447.7,354.7" fill="none" stroke="#2f56d0" stroke-width="1.5"/>
<line x1="217" y1="560.3" x2="1471" y2="297" stroke="#d9c34a" stroke-width="2"/>
<line x1="39" y1="348.5" x2="1796" y2="348.5" stroke="#e0505e" stroke-width="1" stroke-dasharray="1.2 2.6"/>
<path d="M230.0,523 h11 v10 h4.8 L235.5,545 L225.2,533 h4.8 z" fill="#dd3644"/>
<path d="M735.5,413 h11 v10 h4.8 L741,435 L730.7,423 h4.8 z" fill="#dd3644"/>
<path d="M826.5,393 h11 v10 h4.8 L832,415 L821.7,403 h4.8 z" fill="#dd3644"/>
<path d="M1310.5,302 h11 v10 h4.8 L1316,324 L1305.7,312 h4.8 z" fill="#dd3644"/>
<path d="M1403.5,268 h11 v10 h4.8 L1409,290 L1398.7,278 h4.8 z" fill="#dd3644"/>
<text x="303.5" y="345.6" font-family="Liberation Sans" font-size="39" fill="#ef3d4f" stroke="#ef3d4f" stroke-width="0.5" textLength="65" lengthAdjust="spacingAndGlyphs">BTC</text>
<path d="M1444.5,335.5 L1468,374 L1480,343 L1513,392" fill="none" stroke="#e8e8e8" stroke-width="1.3"/>
<path d="M1505,389 L1513,392 L1512,384" fill="none" stroke="#e8e8e8" stroke-width="1.3"/>
</g>
<rect x="1796" y="127" width="77" height="581" fill="#111111"/>
<rect x="39" y="680" width="1757" height="28" fill="#111111"/>
</g>
</svg><div class="abs" style="left:1804px;top:640.5px;font-size:12px;line-height:16px;color:#bdbdbd;-webkit-text-stroke:0.15px #bdbdbd">−20,000.00</div>
<div class="abs" style="left:1804px;top:591.9px;font-size:12px;line-height:16px;color:#bdbdbd;-webkit-text-stroke:0.15px #bdbdbd">0.00</div>
<div class="abs" style="left:1804px;top:543.2px;font-size:12px;line-height:16px;color:#bdbdbd;-webkit-text-stroke:0.15px #bdbdbd">20,000.00</div>
<div class="abs" style="left:1804px;top:494.7px;font-size:12px;line-height:16px;color:#bdbdbd;-webkit-text-stroke:0.15px #bdbdbd">40,000.00</div>
<div class="abs" style="left:1804px;top:446.1px;font-size:12px;line-height:16px;color:#bdbdbd;-webkit-text-stroke:0.15px #bdbdbd">60,000.00</div>
<div class="abs" style="left:1804px;top:397.5px;font-size:12px;line-height:16px;color:#bdbdbd;-webkit-text-stroke:0.15px #bdbdbd">80,000.00</div>
<div class="abs" style="left:1804px;top:348.9px;font-size:12px;line-height:16px;color:#bdbdbd;-webkit-text-stroke:0.15px #bdbdbd">100,000.00</div>
<div class="abs" style="left:1804px;top:300.3px;font-size:12px;line-height:16px;color:#bdbdbd;-webkit-text-stroke:0.15px #bdbdbd">120,000.00</div>
<div class="abs" style="left:1804px;top:251.7px;font-size:12px;line-height:16px;color:#bdbdbd;-webkit-text-stroke:0.15px #bdbdbd">140,000.00</div>
<div class="abs" style="left:1804px;top:203.1px;font-size:12px;line-height:16px;color:#bdbdbd;-webkit-text-stroke:0.15px #bdbdbd">160,000.00</div>
<div class="abs" style="left:1804px;top:154.5px;font-size:12px;line-height:16px;color:#bdbdbd;-webkit-text-stroke:0.15px #bdbdbd">180,000.00</div><div class="abs" style="left:224.4px;width:40px;text-align:center;top:686px;font-size:12px;line-height:16px;color:#c4c4c4;font-weight:bold">2018</div>
<div class="abs" style="left:300.9px;width:40px;text-align:center;top:686px;font-size:12px;line-height:16px;color:#c4c4c4;">Jul</div>
<div class="abs" style="left:380.3px;width:40px;text-align:center;top:686px;font-size:12px;line-height:16px;color:#c4c4c4;font-weight:bold">2019</div>
<div class="abs" style="left:453.9px;width:40px;text-align:center;top:686px;font-size:12px;line-height:16px;color:#c4c4c4;">Jul</div>
<div class="abs" style="left:533.3px;width:40px;text-align:center;top:686px;font-size:12px;line-height:16px;color:#c4c4c4;font-weight:bold">2020</div>
<div class="abs" style="left:609.8px;width:40px;text-align:center;top:686px;font-size:12px;line-height:16px;color:#c4c4c4;">Jul</div>
<div class="abs" style="left:686.3px;width:40px;text-align:center;top:686px;font-size:12px;line-height:16px;color:#c4c4c4;font-weight:bold">2021</div>
<div class="abs" style="left:762.8px;width:40px;text-align:center;top:686px;font-size:12px;line-height:16px;color:#c4c4c4;">Jul</div>
<div class="abs" style="left:839.3px;width:40px;text-align:center;top:686px;font-size:12px;line-height:16px;color:#c4c4c4;font-weight:bold">2022</div>
<div class="abs" style="left:915.8px;width:40px;text-align:center;top:686px;font-size:12px;line-height:16px;color:#c4c4c4;">Jul</div>
<div class="abs" style="left:992.3px;width:40px;text-align:center;top:686px;font-size:12px;line-height:16px;color:#c4c4c4;font-weight:bold">2023</div>
<div class="abs" style="left:1068.8px;width:40px;text-align:center;top:686px;font-size:12px;line-height:16px;color:#c4c4c4;">Jul</div>
<div class="abs" style="left:1145.3px;width:40px;text-align:center;top:686px;font-size:12px;line-height:16px;color:#c4c4c4;font-weight:bold">2024</div>
<div class="abs" style="left:1221.8px;width:40px;text-align:center;top:686px;font-size:12px;line-height:16px;color:#c4c4c4;">Jul</div>
<div class="abs" style="left:1301.2px;width:40px;text-align:center;top:686px;font-size:12px;line-height:16px;color:#c4c4c4;font-weight:bold">2025</div>
<div class="abs" style="left:1377.7px;width:40px;text-align:center;top:686px;font-size:12px;line-height:16px;color:#c4c4c4;">Jul</div>
<div class="abs" style="left:1797px;top:127px;width:76px;height:33.5px;background:#111111;border-top-right-radius:7px"></div>
<div class="abs" style="left:1799px;top:131px;width:70px;height:26px;border:1px solid #4a4a4a;border-radius:4px;background:#111111"></div>
<div class="abs" style="left:1803px;top:136px;font-size:12px;line-height:16px;color:#e6e6e6;letter-spacing:-0.4px">USDT</div>
<div class="abs" style="left:1738px;top:340px;width:58px;height:17px;background:#f23645"></div>
<div class="abs" style="left:1742px;top:341px;font-size:12px;line-height:16px;color:#fff;letter-spacing:-0.9px">BTCUSDT</div>
<div class="abs" style="left:1796px;top:340px;width:72px;height:17px;background:#f23645"></div>
<div class="abs" style="left:1804px;top:341px;font-size:12px;line-height:16px;color:#fff">103,873.40</div>
<div class="abs" style="left:1796px;top:357px;width:56px;height:17px;background:#2962ff"></div>
<div class="abs" style="left:1804px;top:358px;font-size:12px;line-height:16px;color:#fff">100,848</div>
<div class="abs" style="left:1796px;top:664px;width:52px;height:16px;background:#8c2a2e"></div>
<div class="abs" style="left:1803px;top:665px;font-size:12px;line-height:16px;color:#fff;font-weight:bold">42.73 K</div>
<svg class="abs" style="left:44px;top:131px" width="26" height="24" viewBox="0 0 26 24">
 <circle cx="16.4" cy="8.7" r="5.8" fill="#179a96"/>
 <path d="M13.2,6.6 H19 L19.8,8.4 L16.4,11.6 L13,8.4Z" fill="#dff4f2"/>
 <circle cx="9.9" cy="14.8" r="7.1" fill="#111111"/>
 <circle cx="9.9" cy="14.8" r="6.1" fill="#f39a2a"/>
 <text x="10.1" y="17.8" font-family="Liberation Sans" font-size="8" font-weight="bold" fill="#fde6c4" text-anchor="middle" opacity=".8">B</text>
</svg>
<div class="abs" style="left:69.3px;top:136px;font-size:14px;line-height:16px;color:#dcdcdc;letter-spacing:1.27px">Bitcoin / TetherUS</div>
<div class="abs" style="left:206.3px;top:136px;font-size:14px;line-height:16px;color:#dcdcdc">·</div>
<div class="abs" style="left:213.2px;top:136px;font-size:14px;line-height:16px;color:#dcdcdc;letter-spacing:1.3px">1W</div>
<div class="abs" style="left:240.8px;top:136px;font-size:14px;line-height:16px;color:#dcdcdc">·</div>
<div class="abs" style="left:247.1px;top:136px;font-size:14px;line-height:16px;color:#dcdcdc;letter-spacing:1.1px">Binance</div>
<div class="abs" style="left:312px;top:136px;font-size:12.5px;line-height:16px;color:#dcdcdc">Vol</div>
<div class="abs" style="left:330px;top:136px;font-size:12.5px;line-height:16px;color:#e04250">42.73 K −2,726.04 (−2.56%)</div>
<div class="abs" style="left:47px;top:158px;width:32px;height:20px;border:1px solid #3a3a3a;border-radius:4px"></div>
<svg class="abs" style="left:52px;top:164px" width="10" height="8" viewBox="0 0 10 8"><path d="M1.3 2.8L5.4 6.6L9.5 2.8" fill="none" stroke="#dcdcdc" stroke-width="1.3"/></svg>
<div class="abs" style="left:66.5px;top:161px;font-size:13px;line-height:16px;color:#dcdcdc">2</div>
<svg class="abs" style="left:50px;top:652px" width="32" height="17" viewBox="0 0 32 17">
 <path d="M1 1H13V16H6V6.5H1z" fill="#e0e0e0"/>
 <circle cx="18.3" cy="4.3" r="3" fill="#e0e0e0"/>
 <path d="M22 1H31L26 16H17.5z" fill="#e0e0e0"/>
</svg>
<div class="abs" style="left:88px;top:649px;font-size:20px;font-weight:bold;line-height:22px;color:#e0e0e0;letter-spacing:0.35px">TradingView</div>

<div class="abs" style="left:334px;top:729px;width:67px;height:40px;border:1px solid #e9e9ea;border-radius:7px"></div>
<svg class="abs" style="left:345px;top:734px" width="30" height="28" viewBox="0 0 30 28">
 <path d="M8.5,8.6 C11,7.6 13,8.2 15,7.6 C17,6.2 19,5.2 21,5.6 C24,6.5 25,9.5 24,12.2 L22.6,15.6 C22,17 22.6,19 22,20.6 C21,21.6 20,20.2 19,19.6 C18,20.6 17,22 15.6,22 C14.5,21.5 13.6,19.6 12.5,19.6 C11,19.6 10.6,18 10,17.2 C9,16.2 7.6,15.6 7.6,14.6 C8,13.2 9.6,12.6 9.6,11.6 C9,10.6 8,9.6 8.5,8.6Z" fill="none" stroke="#131722" stroke-width="1.7" stroke-linejoin="round"/>
 <circle cx="16.6" cy="13.4" r="2.1" fill="#131722"/>
 <circle cx="18.9" cy="8.9" r="1" fill="#131722"/><circle cx="21.1" cy="11.1" r="1" fill="#131722"/>
 <path d="M6.4,19.4 L7,18.7 M6.6,23 L9.2,20.6 M10.4,23.6 L11.4,22.7" stroke="#131722" stroke-width="1.5" stroke-linecap="round"/>
</svg>
<div class="abs" style="left:378px;top:740px;font-size:15px;line-height:18px;color:#131722">8</div>
<svg class="abs" style="left:420px;top:733px" width="32" height="32" viewBox="0 0 32 32">
 <rect x="10.6" y="5.5" width="16" height="15.8" rx="3" fill="none" stroke="#131722" stroke-width="1.7"/>
 <path d="M7.6,10.3 C6.3,10.8 5.6,11.8 5.6,13.2 V21.6 C5.6,23.4 6.8,24.6 8.6,24.6 H18.4 C20,24.6 21.2,23.6 21.3,22.4" fill="none" stroke="#131722" stroke-width="1.7" stroke-linecap="round"/>
 <path d="M13.4,15.3 L16.9,11.5 L20.2,15.4 L23.3,11.7" fill="none" stroke="#131722" stroke-width="1.6" stroke-linejoin="round"/>
</svg>
<div class="abs" style="left:456px;top:741px;font-size:16px;line-height:18px;color:#131722;letter-spacing:0.25px">Grab this chart</div>
<svg class="abs" style="left:600px;top:735px" width="30" height="30" viewBox="0 0 30 30">
 <path d="M5.6,25 V8.9 A3.2,3.2 0 0 1 8.8,5.7 H22.2 A3.2,3.2 0 0 1 25.4,8.9 V17.8 A3.2,3.2 0 0 1 22.2,21 H10.4 Z" fill="none" stroke="#131722" stroke-width="1.7" stroke-linejoin="round"/>
 <path d="M11.3,11.6 H19.8 M11.3,15.1 H19.8" stroke="#131722" stroke-width="1.5"/>
</svg>
<div class="abs" style="left:634px;top:740px;font-size:15px;line-height:18px;color:#131722">1</div>
<svg class="abs" style="left:676px;top:744px" width="22" height="10" viewBox="0 0 22 10">
 <circle cx="3.6" cy="5" r="2.4" fill="none" stroke="#131722" stroke-width="1.6"/>
 <circle cx="10.6" cy="5" r="2.4" fill="none" stroke="#131722" stroke-width="1.6"/>
 <circle cx="17.6" cy="5" r="2.4" fill="none" stroke="#131722" stroke-width="1.6"/>
</svg>
<svg class="abs" style="left:1079px;top:739px" width="24" height="20" viewBox="0 0 24 20">
 <path d="M1.5 10C4 5 7.5 2.5 12 2.5S20 5 22.5 10C20 15 16.5 17.5 12 17.5S4 15 1.5 10z" fill="none" stroke="#6a6d78" stroke-width="1.4"/>
 <circle cx="12" cy="10" r="3.2" fill="none" stroke="#6a6d78" stroke-width="1.4"/>
</svg>
<div class="abs" style="left:1109px;top:740px;font-size:15px;line-height:18px;color:#6a6d78">252</div>
<svg class="abs" style="left:1196px;top:727px" width="44" height="44" viewBox="0 0 44 44">
 <defs><linearGradient id="av" x1="0.1" y1="0.1" x2="0.9" y2="0.9"><stop offset="0" stop-color="#12608a"/><stop offset="0.5" stop-color="#2f3592"/><stop offset="1" stop-color="#6b2bab"/></linearGradient></defs>
 <circle cx="22.2" cy="21.9" r="18.8" fill="url(#av)"/>
 <path d="M12,8 C9.5,13 11.5,16.5 17,16 M32.5,8 C35,13 33,16.5 27.5,16" stroke="#8d8078" stroke-width="2.4" fill="none"/>
 <path d="M17.5,12 H27 L28,19.5 L26,23 V29 H18.5 V23 L16.5,19.5 Z" fill="#5cc848"/>
 <circle cx="19.8" cy="20.6" r="1.7" fill="#1d3a30"/><circle cx="24.7" cy="20.6" r="1.7" fill="#1d3a30"/>
 <path d="M13,28.5 h3 M28.5,28.5 h3" stroke="#c9a870" stroke-width="1.2"/>
 <rect x="9.5" y="31.6" width="25.5" height="3.2" fill="#e4e2f0"/>
</svg>
<div class="abs" style="left:1246px;top:740px;font-size:15px;font-weight:bold;line-height:18px;color:#131722">CryptoSkullSignal</div>
<div class="abs" style="left:1387px;top:732px;width:71px;height:34px;background:#131313;border-radius:6px"></div>
<div class="abs" style="left:1400px;top:741px;font-size:16px;line-height:18px;color:#fff;letter-spacing:0.3px">Follow</div>

</body></html>
